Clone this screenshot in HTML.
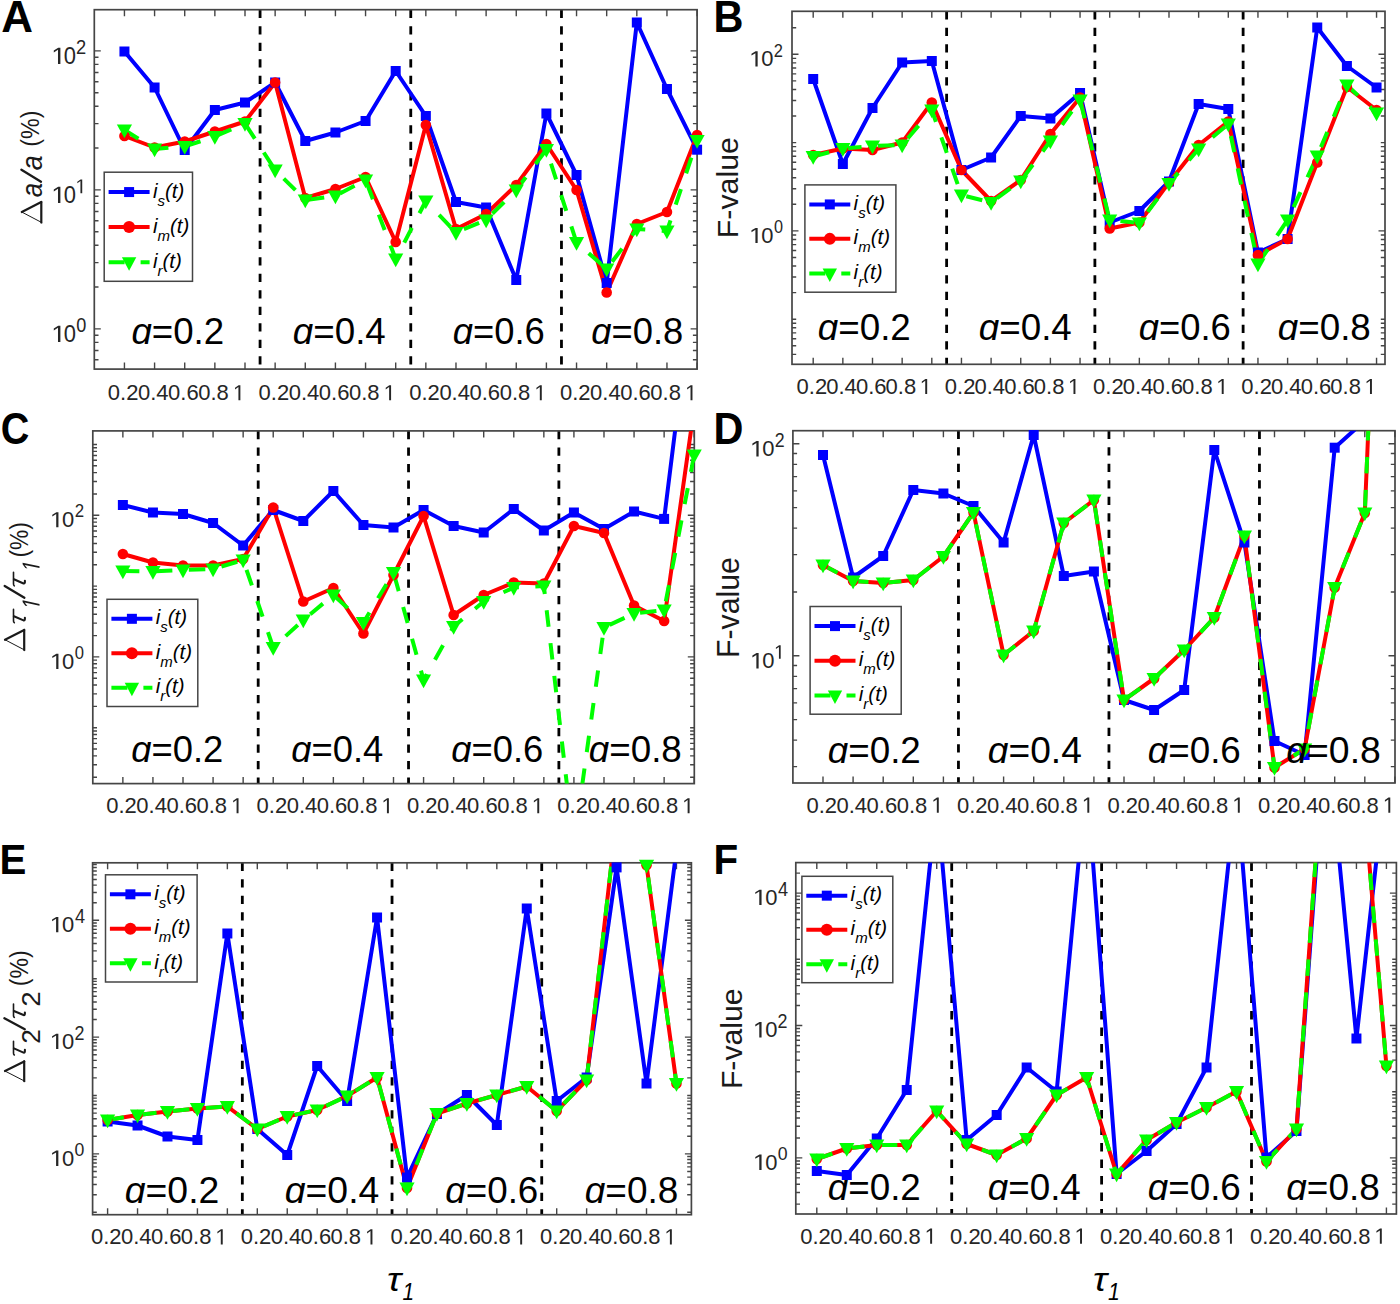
<!DOCTYPE html>
<html><head><meta charset="utf-8"><style>
html,body{margin:0;padding:0;background:#fff;}
svg{display:block;font-family:"Liberation Sans", sans-serif;}
</style></head><body>
<svg width="1400" height="1304" viewBox="0 0 1400 1304">
<rect width="1400" height="1304" fill="#fff"/>
<clipPath id="clipA"><rect x="94.3" y="9.7" width="602.8" height="359.4"/></clipPath>
<line x1="260.07" y1="9.7" x2="260.07" y2="369.1" stroke="#000" stroke-width="2.8" stroke-dasharray="8.3 8.2"/>
<line x1="410.77" y1="9.7" x2="410.77" y2="369.1" stroke="#000" stroke-width="2.8" stroke-dasharray="8.3 8.2"/>
<line x1="561.47" y1="9.7" x2="561.47" y2="369.1" stroke="#000" stroke-width="2.8" stroke-dasharray="8.3 8.2"/>
<path d="M124.44 369.1v-6.5M124.44 9.7v6.5M154.58 369.1v-6.5M154.58 9.7v6.5M184.72 369.1v-6.5M184.72 9.7v6.5M214.86 369.1v-6.5M214.86 9.7v6.5M245 369.1v-6.5M245 9.7v6.5M275.14 369.1v-6.5M275.14 9.7v6.5M305.28 369.1v-6.5M305.28 9.7v6.5M335.42 369.1v-6.5M335.42 9.7v6.5M365.56 369.1v-6.5M365.56 9.7v6.5M395.7 369.1v-6.5M395.7 9.7v6.5M425.84 369.1v-6.5M425.84 9.7v6.5M455.98 369.1v-6.5M455.98 9.7v6.5M486.12 369.1v-6.5M486.12 9.7v6.5M516.26 369.1v-6.5M516.26 9.7v6.5M546.4 369.1v-6.5M546.4 9.7v6.5M576.54 369.1v-6.5M576.54 9.7v6.5M606.68 369.1v-6.5M606.68 9.7v6.5M636.82 369.1v-6.5M636.82 9.7v6.5M666.96 369.1v-6.5M666.96 9.7v6.5M697.1 369.1v-6.5M697.1 9.7v6.5M94.3 359.74h4.2M697.1 359.74h-4.2M94.3 350.43h4.2M697.1 350.43h-4.2M94.3 342.37h4.2M697.1 342.37h-4.2M94.3 335.26h4.2M697.1 335.26h-4.2M94.3 328.9h6.5M697.1 328.9h-6.5M94.3 287.06h4.2M697.1 287.06h-4.2M94.3 262.58h4.2M697.1 262.58h-4.2M94.3 245.21h4.2M697.1 245.21h-4.2M94.3 231.74h4.2M697.1 231.74h-4.2M94.3 220.74h4.2M697.1 220.74h-4.2M94.3 211.43h4.2M697.1 211.43h-4.2M94.3 203.37h4.2M697.1 203.37h-4.2M94.3 196.26h4.2M697.1 196.26h-4.2M94.3 189.9h6.5M697.1 189.9h-6.5M94.3 148.06h4.2M697.1 148.06h-4.2M94.3 123.58h4.2M697.1 123.58h-4.2M94.3 106.21h4.2M697.1 106.21h-4.2M94.3 92.74h4.2M697.1 92.74h-4.2M94.3 81.74h4.2M697.1 81.74h-4.2M94.3 72.43h4.2M697.1 72.43h-4.2M94.3 64.37h4.2M697.1 64.37h-4.2M94.3 57.26h4.2M697.1 57.26h-4.2M94.3 50.9h6.5M697.1 50.9h-6.5" stroke="#454545" stroke-width="1.4" fill="none"/>
<rect x="94.3" y="9.7" width="602.8" height="359.4" fill="none" stroke="#454545" stroke-width="1.7"/>
<g clip-path="url(#clipA)"><polyline points="124.44,51.5 154.58,87.5 184.72,150 214.86,110 245,102.5 275.14,82.5 305.28,141 335.42,132.5 365.56,121 395.7,71 425.84,116 455.98,202 486.12,207.5 516.26,280 546.4,113.5 576.54,175 606.68,283 636.82,22.5 666.96,89 697.1,149.7" fill="none" stroke="#0000ff" stroke-width="4" stroke-linejoin="round"/><polyline points="124.44,136 154.58,147.5 184.72,141.5 214.86,131.5 245,121.5 275.14,82.5 305.28,198 335.42,189 365.56,177 395.7,242 425.84,125 455.98,229 486.12,214 516.26,185 546.4,144 576.54,190 606.68,292.5 636.82,224 666.96,212 697.1,135" fill="none" stroke="#ff0000" stroke-width="4" stroke-linejoin="round"/><polyline points="124.44,130 154.58,149 184.72,146.5 214.86,136.5 245,123.5 275.14,170 305.28,200 335.42,196 365.56,180 395.7,259 425.84,201 455.98,232.5 486.12,220 516.26,190 546.4,149.5 576.54,242.5 606.68,269 636.82,229 666.96,231 697.1,140.5" fill="none" stroke="#00ff00" stroke-width="4" stroke-linejoin="round" stroke-dasharray="16.5 16.5"/></g>
<rect x="119.44" y="46.5" width="10" height="10" fill="#00f"/><rect x="149.58" y="82.5" width="10" height="10" fill="#00f"/><rect x="179.72" y="145" width="10" height="10" fill="#00f"/><rect x="209.86" y="105" width="10" height="10" fill="#00f"/><rect x="240" y="97.5" width="10" height="10" fill="#00f"/><rect x="270.14" y="77.5" width="10" height="10" fill="#00f"/><rect x="300.28" y="136" width="10" height="10" fill="#00f"/><rect x="330.42" y="127.5" width="10" height="10" fill="#00f"/><rect x="360.56" y="116" width="10" height="10" fill="#00f"/><rect x="390.7" y="66" width="10" height="10" fill="#00f"/><rect x="420.84" y="111" width="10" height="10" fill="#00f"/><rect x="450.98" y="197" width="10" height="10" fill="#00f"/><rect x="481.12" y="202.5" width="10" height="10" fill="#00f"/><rect x="511.26" y="275" width="10" height="10" fill="#00f"/><rect x="541.4" y="108.5" width="10" height="10" fill="#00f"/><rect x="571.54" y="170" width="10" height="10" fill="#00f"/><rect x="601.68" y="278" width="10" height="10" fill="#00f"/><rect x="631.82" y="17.5" width="10" height="10" fill="#00f"/><rect x="661.96" y="84" width="10" height="10" fill="#00f"/><rect x="692.1" y="144.7" width="10" height="10" fill="#00f"/><circle cx="124.44" cy="136" r="5.3" fill="#f00"/><circle cx="154.58" cy="147.5" r="5.3" fill="#f00"/><circle cx="184.72" cy="141.5" r="5.3" fill="#f00"/><circle cx="214.86" cy="131.5" r="5.3" fill="#f00"/><circle cx="245" cy="121.5" r="5.3" fill="#f00"/><circle cx="275.14" cy="82.5" r="5.3" fill="#f00"/><circle cx="305.28" cy="198" r="5.3" fill="#f00"/><circle cx="335.42" cy="189" r="5.3" fill="#f00"/><circle cx="365.56" cy="177" r="5.3" fill="#f00"/><circle cx="395.7" cy="242" r="5.3" fill="#f00"/><circle cx="425.84" cy="125" r="5.3" fill="#f00"/><circle cx="455.98" cy="229" r="5.3" fill="#f00"/><circle cx="486.12" cy="214" r="5.3" fill="#f00"/><circle cx="516.26" cy="185" r="5.3" fill="#f00"/><circle cx="546.4" cy="144" r="5.3" fill="#f00"/><circle cx="576.54" cy="190" r="5.3" fill="#f00"/><circle cx="606.68" cy="292.5" r="5.3" fill="#f00"/><circle cx="636.82" cy="224" r="5.3" fill="#f00"/><circle cx="666.96" cy="212" r="5.3" fill="#f00"/><circle cx="697.1" cy="135" r="5.3" fill="#f00"/><path d="M116.84 124.5H132.04L124.44 138.2Z" fill="#0f0"/><path d="M146.98 143.5H162.18L154.58 157.2Z" fill="#0f0"/><path d="M177.12 141H192.32L184.72 154.7Z" fill="#0f0"/><path d="M207.26 131H222.46L214.86 144.7Z" fill="#0f0"/><path d="M237.4 118H252.6L245 131.7Z" fill="#0f0"/><path d="M267.54 164.5H282.74L275.14 178.2Z" fill="#0f0"/><path d="M297.68 194.5H312.88L305.28 208.2Z" fill="#0f0"/><path d="M327.82 190.5H343.02L335.42 204.2Z" fill="#0f0"/><path d="M357.96 174.5H373.16L365.56 188.2Z" fill="#0f0"/><path d="M388.1 253.5H403.3L395.7 267.2Z" fill="#0f0"/><path d="M418.24 195.5H433.44L425.84 209.2Z" fill="#0f0"/><path d="M448.38 227H463.58L455.98 240.7Z" fill="#0f0"/><path d="M478.52 214.5H493.72L486.12 228.2Z" fill="#0f0"/><path d="M508.66 184.5H523.86L516.26 198.2Z" fill="#0f0"/><path d="M538.8 144H554L546.4 157.7Z" fill="#0f0"/><path d="M568.94 237H584.14L576.54 250.7Z" fill="#0f0"/><path d="M599.08 263.5H614.28L606.68 277.2Z" fill="#0f0"/><path d="M629.22 223.5H644.42L636.82 237.2Z" fill="#0f0"/><path d="M659.36 225.5H674.56L666.96 239.2Z" fill="#0f0"/><path d="M689.5 135H704.7L697.1 148.7Z" fill="#0f0"/>
<g fill="#262626">
<text x="63.64" y="63.77" font-size="23.3" textLength="12.22" lengthAdjust="spacingAndGlyphs">0</text>
<path d="M515 0L515 1237L197 1010L197 1180L530 1409L696 1409L696 0Z" transform="translate(51.19,64) scale(0.01321,-0.01148)"/>
<text x="76.08" y="54.3" font-size="19.91" textLength="10.19" lengthAdjust="spacingAndGlyphs">2</text>
<text x="63.64" y="202.77" font-size="23.3" textLength="12.22" lengthAdjust="spacingAndGlyphs">0</text>
<path d="M515 0L515 1237L197 1010L197 1180L530 1409L696 1409L696 0Z" transform="translate(51.19,203) scale(0.01321,-0.01148)"/>
<path d="M515 0L515 1237L197 1010L197 1180L530 1409L696 1409L696 0Z" transform="translate(75.36,193.3) scale(0.00987,-0.00987)"/>
<text x="63.64" y="341.77" font-size="23.3" textLength="12.22" lengthAdjust="spacingAndGlyphs">0</text>
<path d="M515 0L515 1237L197 1010L197 1180L530 1409L696 1409L696 0Z" transform="translate(51.19,342) scale(0.01321,-0.01148)"/>
<text x="76.29" y="332.11" font-size="19.63" textLength="10.05" lengthAdjust="spacingAndGlyphs">0</text>
<text x="123.14" y="400.3" font-size="22" text-anchor="middle">0.2</text>
<text x="153.28" y="400.3" font-size="22" text-anchor="middle">0.4</text>
<text x="183.42" y="400.3" font-size="22" text-anchor="middle">0.6</text>
<text x="213.56" y="400.3" font-size="22" text-anchor="middle">0.8</text>
<path d="M515 0L515 1237L197 1010L197 1180L530 1409L696 1409L696 0Z" transform="translate(232.9,400.3) scale(0.01074,-0.01074)"/>
<text x="273.84" y="400.3" font-size="22" text-anchor="middle">0.2</text>
<text x="303.98" y="400.3" font-size="22" text-anchor="middle">0.4</text>
<text x="334.12" y="400.3" font-size="22" text-anchor="middle">0.6</text>
<text x="364.26" y="400.3" font-size="22" text-anchor="middle">0.8</text>
<path d="M515 0L515 1237L197 1010L197 1180L530 1409L696 1409L696 0Z" transform="translate(383.6,400.3) scale(0.01074,-0.01074)"/>
<text x="424.54" y="400.3" font-size="22" text-anchor="middle">0.2</text>
<text x="454.68" y="400.3" font-size="22" text-anchor="middle">0.4</text>
<text x="484.82" y="400.3" font-size="22" text-anchor="middle">0.6</text>
<text x="514.96" y="400.3" font-size="22" text-anchor="middle">0.8</text>
<path d="M515 0L515 1237L197 1010L197 1180L530 1409L696 1409L696 0Z" transform="translate(534.3,400.3) scale(0.01074,-0.01074)"/>
<text x="575.24" y="400.3" font-size="22" text-anchor="middle">0.2</text>
<text x="605.38" y="400.3" font-size="22" text-anchor="middle">0.4</text>
<text x="635.52" y="400.3" font-size="22" text-anchor="middle">0.6</text>
<text x="665.66" y="400.3" font-size="22" text-anchor="middle">0.8</text>
<path d="M515 0L515 1237L197 1010L197 1180L530 1409L696 1409L696 0Z" transform="translate(685,400.3) scale(0.01074,-0.01074)"/>
</g>
<text x="131.4" y="344" font-size="37.5" textLength="92.8" lengthAdjust="spacingAndGlyphs"><tspan font-style="italic">ɑ</tspan>=0.2</text>
<text x="292.8" y="344" font-size="37.5" textLength="93" lengthAdjust="spacingAndGlyphs"><tspan font-style="italic">ɑ</tspan>=0.4</text>
<text x="452.8" y="344" font-size="37.5" textLength="92" lengthAdjust="spacingAndGlyphs"><tspan font-style="italic">ɑ</tspan>=0.6</text>
<text x="591.3" y="344" font-size="37.5" textLength="92" lengthAdjust="spacingAndGlyphs"><tspan font-style="italic">ɑ</tspan>=0.8</text>
<rect x="104.2" y="172.2" width="88.3" height="109.1" fill="#fff" stroke="#454545" stroke-width="1.5"/>
<line x1="108.6" y1="192.06" x2="149.6" y2="192.06" stroke="#0000ff" stroke-width="4"/>
<rect x="124.1" y="187.06" width="10" height="10" fill="#00f"/>
<text x="152.9" y="197.56" font-size="20.5" font-style="italic">i<tspan font-size="15" dy="8">s</tspan><tspan dy="-8">(t)</tspan></text>
<line x1="108.6" y1="227.08" x2="149.6" y2="227.08" stroke="#ff0000" stroke-width="4"/>
<circle cx="129.1" cy="227.08" r="6" fill="#f00"/>
<text x="152.9" y="232.58" font-size="20.5" font-style="italic">i<tspan font-size="15" dy="8">m</tspan><tspan dy="-8">(t)</tspan></text>
<line x1="108.6" y1="262.32" x2="149.6" y2="262.32" stroke="#00ff00" stroke-width="4" stroke-dasharray="16 16"/>
<path d="M121.9 257.32H136.3L129.1 270.82Z" fill="#0f0"/>
<text x="152.9" y="267.82" font-size="20.5" font-style="italic">i<tspan font-size="15" dy="8">r</tspan><tspan dy="-8">(t)</tspan></text>
<clipPath id="clipB"><rect x="792" y="11.3" width="593" height="353"/></clipPath>
<line x1="946.62" y1="11.3" x2="946.62" y2="364.3" stroke="#000" stroke-width="2.8" stroke-dasharray="8.3 8.2"/>
<line x1="1094.88" y1="11.3" x2="1094.88" y2="364.3" stroke="#000" stroke-width="2.8" stroke-dasharray="8.3 8.2"/>
<line x1="1243.12" y1="11.3" x2="1243.12" y2="364.3" stroke="#000" stroke-width="2.8" stroke-dasharray="8.3 8.2"/>
<path d="M813.2 364.3v-6.5M813.2 11.3v6.5M842.85 364.3v-6.5M842.85 11.3v6.5M872.5 364.3v-6.5M872.5 11.3v6.5M902.15 364.3v-6.5M902.15 11.3v6.5M931.8 364.3v-6.5M931.8 11.3v6.5M961.45 364.3v-6.5M961.45 11.3v6.5M991.1 364.3v-6.5M991.1 11.3v6.5M1020.75 364.3v-6.5M1020.75 11.3v6.5M1050.4 364.3v-6.5M1050.4 11.3v6.5M1080.05 364.3v-6.5M1080.05 11.3v6.5M1109.7 364.3v-6.5M1109.7 11.3v6.5M1139.35 364.3v-6.5M1139.35 11.3v6.5M1169 364.3v-6.5M1169 11.3v6.5M1198.65 364.3v-6.5M1198.65 11.3v6.5M1228.3 364.3v-6.5M1228.3 11.3v6.5M1257.95 364.3v-6.5M1257.95 11.3v6.5M1287.6 364.3v-6.5M1287.6 11.3v6.5M1317.25 364.3v-6.5M1317.25 11.3v6.5M1346.9 364.3v-6.5M1346.9 11.3v6.5M1376.55 364.3v-6.5M1376.55 11.3v6.5M792 354.34h4.2M1385 354.34h-4.2M792 345.78h4.2M1385 345.78h-4.2M792 338.79h4.2M1385 338.79h-4.2M792 332.88h4.2M1385 332.88h-4.2M792 327.76h4.2M1385 327.76h-4.2M792 323.24h4.2M1385 323.24h-4.2M792 319.2h4.2M1385 319.2h-4.2M792 292.62h4.2M1385 292.62h-4.2M792 277.07h4.2M1385 277.07h-4.2M792 266.04h4.2M1385 266.04h-4.2M792 257.48h4.2M1385 257.48h-4.2M792 250.49h4.2M1385 250.49h-4.2M792 244.58h4.2M1385 244.58h-4.2M792 239.46h4.2M1385 239.46h-4.2M792 234.94h4.2M1385 234.94h-4.2M792 230.9h6.5M1385 230.9h-6.5M792 204.32h4.2M1385 204.32h-4.2M792 188.77h4.2M1385 188.77h-4.2M792 177.74h4.2M1385 177.74h-4.2M792 169.18h4.2M1385 169.18h-4.2M792 162.19h4.2M1385 162.19h-4.2M792 156.28h4.2M1385 156.28h-4.2M792 151.16h4.2M1385 151.16h-4.2M792 146.64h4.2M1385 146.64h-4.2M792 142.6h4.2M1385 142.6h-4.2M792 116.02h4.2M1385 116.02h-4.2M792 100.47h4.2M1385 100.47h-4.2M792 89.44h4.2M1385 89.44h-4.2M792 80.88h4.2M1385 80.88h-4.2M792 73.89h4.2M1385 73.89h-4.2M792 67.98h4.2M1385 67.98h-4.2M792 62.86h4.2M1385 62.86h-4.2M792 58.34h4.2M1385 58.34h-4.2M792 54.3h6.5M1385 54.3h-6.5M792 27.72h4.2M1385 27.72h-4.2" stroke="#454545" stroke-width="1.4" fill="none"/>
<rect x="792" y="11.3" width="593" height="353" fill="none" stroke="#454545" stroke-width="1.7"/>
<g clip-path="url(#clipB)"><polyline points="813.2,79 842.85,164 872.5,108 902.15,62.5 931.8,61 961.45,170 991.1,157.5 1020.75,116 1050.4,118.5 1080.05,93 1109.7,222.5 1139.35,211 1169,181.5 1198.65,104 1228.3,109 1257.95,252.5 1287.6,239 1317.25,27.5 1346.9,66 1376.55,87.5" fill="none" stroke="#0000ff" stroke-width="4" stroke-linejoin="round"/><polyline points="813.2,155 842.85,148.5 872.5,150 902.15,142.5 931.8,102.5 961.45,170 991.1,201 1020.75,180 1050.4,134 1080.05,97.5 1109.7,228.5 1139.35,222.5 1169,182.5 1198.65,145 1228.3,121.5 1257.95,255 1287.6,239 1317.25,162.5 1346.9,87 1376.55,110" fill="none" stroke="#ff0000" stroke-width="4" stroke-linejoin="round"/><polyline points="813.2,156.5 842.85,148.5 872.5,146 902.15,145 931.8,110 961.45,195 991.1,202.5 1020.75,181 1050.4,141 1080.05,100 1109.7,220 1139.35,223 1169,183.5 1198.65,149 1228.3,124 1257.95,264 1287.6,220 1317.25,156 1346.9,85 1376.55,113" fill="none" stroke="#00ff00" stroke-width="4" stroke-linejoin="round" stroke-dasharray="16.5 16.5"/></g>
<rect x="808.2" y="74" width="10" height="10" fill="#00f"/><rect x="837.85" y="159" width="10" height="10" fill="#00f"/><rect x="867.5" y="103" width="10" height="10" fill="#00f"/><rect x="897.15" y="57.5" width="10" height="10" fill="#00f"/><rect x="926.8" y="56" width="10" height="10" fill="#00f"/><rect x="956.45" y="165" width="10" height="10" fill="#00f"/><rect x="986.1" y="152.5" width="10" height="10" fill="#00f"/><rect x="1015.75" y="111" width="10" height="10" fill="#00f"/><rect x="1045.4" y="113.5" width="10" height="10" fill="#00f"/><rect x="1075.05" y="88" width="10" height="10" fill="#00f"/><rect x="1104.7" y="217.5" width="10" height="10" fill="#00f"/><rect x="1134.35" y="206" width="10" height="10" fill="#00f"/><rect x="1164" y="176.5" width="10" height="10" fill="#00f"/><rect x="1193.65" y="99" width="10" height="10" fill="#00f"/><rect x="1223.3" y="104" width="10" height="10" fill="#00f"/><rect x="1252.95" y="247.5" width="10" height="10" fill="#00f"/><rect x="1282.6" y="234" width="10" height="10" fill="#00f"/><rect x="1312.25" y="22.5" width="10" height="10" fill="#00f"/><rect x="1341.9" y="61" width="10" height="10" fill="#00f"/><rect x="1371.55" y="82.5" width="10" height="10" fill="#00f"/><circle cx="813.2" cy="155" r="5.3" fill="#f00"/><circle cx="842.85" cy="148.5" r="5.3" fill="#f00"/><circle cx="872.5" cy="150" r="5.3" fill="#f00"/><circle cx="902.15" cy="142.5" r="5.3" fill="#f00"/><circle cx="931.8" cy="102.5" r="5.3" fill="#f00"/><circle cx="961.45" cy="170" r="5.3" fill="#f00"/><circle cx="991.1" cy="201" r="5.3" fill="#f00"/><circle cx="1020.75" cy="180" r="5.3" fill="#f00"/><circle cx="1050.4" cy="134" r="5.3" fill="#f00"/><circle cx="1080.05" cy="97.5" r="5.3" fill="#f00"/><circle cx="1109.7" cy="228.5" r="5.3" fill="#f00"/><circle cx="1139.35" cy="222.5" r="5.3" fill="#f00"/><circle cx="1169" cy="182.5" r="5.3" fill="#f00"/><circle cx="1198.65" cy="145" r="5.3" fill="#f00"/><circle cx="1228.3" cy="121.5" r="5.3" fill="#f00"/><circle cx="1257.95" cy="255" r="5.3" fill="#f00"/><circle cx="1287.6" cy="239" r="5.3" fill="#f00"/><circle cx="1317.25" cy="162.5" r="5.3" fill="#f00"/><circle cx="1346.9" cy="87" r="5.3" fill="#f00"/><circle cx="1376.55" cy="110" r="5.3" fill="#f00"/><path d="M805.6 151H820.8L813.2 164.7Z" fill="#0f0"/><path d="M835.25 143H850.45L842.85 156.7Z" fill="#0f0"/><path d="M864.9 140.5H880.1L872.5 154.2Z" fill="#0f0"/><path d="M894.55 139.5H909.75L902.15 153.2Z" fill="#0f0"/><path d="M924.2 104.5H939.4L931.8 118.2Z" fill="#0f0"/><path d="M953.85 189.5H969.05L961.45 203.2Z" fill="#0f0"/><path d="M983.5 197H998.7L991.1 210.7Z" fill="#0f0"/><path d="M1013.15 175.5H1028.35L1020.75 189.2Z" fill="#0f0"/><path d="M1042.8 135.5H1058L1050.4 149.2Z" fill="#0f0"/><path d="M1072.45 94.5H1087.65L1080.05 108.2Z" fill="#0f0"/><path d="M1102.1 214.5H1117.3L1109.7 228.2Z" fill="#0f0"/><path d="M1131.75 217.5H1146.95L1139.35 231.2Z" fill="#0f0"/><path d="M1161.4 178H1176.6L1169 191.7Z" fill="#0f0"/><path d="M1191.05 143.5H1206.25L1198.65 157.2Z" fill="#0f0"/><path d="M1220.7 118.5H1235.9L1228.3 132.2Z" fill="#0f0"/><path d="M1250.35 258.5H1265.55L1257.95 272.2Z" fill="#0f0"/><path d="M1280 214.5H1295.2L1287.6 228.2Z" fill="#0f0"/><path d="M1309.65 150.5H1324.85L1317.25 164.2Z" fill="#0f0"/><path d="M1339.3 79.5H1354.5L1346.9 93.2Z" fill="#0f0"/><path d="M1368.95 107.5H1384.15L1376.55 121.2Z" fill="#0f0"/>
<g fill="#262626">
<text x="761.34" y="66.19" font-size="21.75" textLength="12.22" lengthAdjust="spacingAndGlyphs">0</text>
<path d="M515 0L515 1237L197 1010L197 1180L530 1409L696 1409L696 0Z" transform="translate(749.06,66.4) scale(0.01233,-0.01072)"/>
<text x="773.87" y="56.5" font-size="17.9" textLength="9.16" lengthAdjust="spacingAndGlyphs">2</text>
<text x="761.34" y="242.79" font-size="21.75" textLength="12.22" lengthAdjust="spacingAndGlyphs">0</text>
<path d="M515 0L515 1237L197 1010L197 1180L530 1409L696 1409L696 0Z" transform="translate(749.06,243) scale(0.01233,-0.01072)"/>
<text x="774.07" y="232.93" font-size="17.66" textLength="9.03" lengthAdjust="spacingAndGlyphs">0</text>
<text x="811.9" y="394.1" font-size="22" text-anchor="middle">0.2</text>
<text x="841.55" y="394.1" font-size="22" text-anchor="middle">0.4</text>
<text x="871.2" y="394.1" font-size="22" text-anchor="middle">0.6</text>
<text x="900.85" y="394.1" font-size="22" text-anchor="middle">0.8</text>
<path d="M515 0L515 1237L197 1010L197 1180L530 1409L696 1409L696 0Z" transform="translate(919.7,394.1) scale(0.01074,-0.01074)"/>
<text x="960.15" y="394.1" font-size="22" text-anchor="middle">0.2</text>
<text x="989.8" y="394.1" font-size="22" text-anchor="middle">0.4</text>
<text x="1019.45" y="394.1" font-size="22" text-anchor="middle">0.6</text>
<text x="1049.1" y="394.1" font-size="22" text-anchor="middle">0.8</text>
<path d="M515 0L515 1237L197 1010L197 1180L530 1409L696 1409L696 0Z" transform="translate(1067.95,394.1) scale(0.01074,-0.01074)"/>
<text x="1108.4" y="394.1" font-size="22" text-anchor="middle">0.2</text>
<text x="1138.05" y="394.1" font-size="22" text-anchor="middle">0.4</text>
<text x="1167.7" y="394.1" font-size="22" text-anchor="middle">0.6</text>
<text x="1197.35" y="394.1" font-size="22" text-anchor="middle">0.8</text>
<path d="M515 0L515 1237L197 1010L197 1180L530 1409L696 1409L696 0Z" transform="translate(1216.2,394.1) scale(0.01074,-0.01074)"/>
<text x="1256.65" y="394.1" font-size="22" text-anchor="middle">0.2</text>
<text x="1286.3" y="394.1" font-size="22" text-anchor="middle">0.4</text>
<text x="1315.95" y="394.1" font-size="22" text-anchor="middle">0.6</text>
<text x="1345.6" y="394.1" font-size="22" text-anchor="middle">0.8</text>
<path d="M515 0L515 1237L197 1010L197 1180L530 1409L696 1409L696 0Z" transform="translate(1364.45,394.1) scale(0.01074,-0.01074)"/>
</g>
<text x="817.8" y="340" font-size="37.5" textLength="93" lengthAdjust="spacingAndGlyphs"><tspan font-style="italic">ɑ</tspan>=0.2</text>
<text x="978.8" y="340" font-size="37.5" textLength="93" lengthAdjust="spacingAndGlyphs"><tspan font-style="italic">ɑ</tspan>=0.4</text>
<text x="1138.8" y="340" font-size="37.5" textLength="92" lengthAdjust="spacingAndGlyphs"><tspan font-style="italic">ɑ</tspan>=0.6</text>
<text x="1277.8" y="340" font-size="37.5" textLength="93" lengthAdjust="spacingAndGlyphs"><tspan font-style="italic">ɑ</tspan>=0.8</text>
<rect x="804.9" y="184.9" width="91" height="107.3" fill="#fff" stroke="#454545" stroke-width="1.5"/>
<line x1="809.3" y1="204.43" x2="850.3" y2="204.43" stroke="#0000ff" stroke-width="4"/>
<rect x="824.8" y="199.43" width="10" height="10" fill="#00f"/>
<text x="853.6" y="209.93" font-size="20.5" font-style="italic">i<tspan font-size="15" dy="8">s</tspan><tspan dy="-8">(t)</tspan></text>
<line x1="809.3" y1="238.87" x2="850.3" y2="238.87" stroke="#ff0000" stroke-width="4"/>
<circle cx="829.8" cy="238.87" r="6" fill="#f00"/>
<text x="853.6" y="244.37" font-size="20.5" font-style="italic">i<tspan font-size="15" dy="8">m</tspan><tspan dy="-8">(t)</tspan></text>
<line x1="809.3" y1="273.53" x2="850.3" y2="273.53" stroke="#00ff00" stroke-width="4" stroke-dasharray="16 16"/>
<path d="M822.6 268.53H837L829.8 282.03Z" fill="#0f0"/>
<text x="853.6" y="279.03" font-size="20.5" font-style="italic">i<tspan font-size="15" dy="8">r</tspan><tspan dy="-8">(t)</tspan></text>
<clipPath id="clipC"><rect x="92.8" y="430.9" width="601.5" height="352.7"/></clipPath>
<line x1="258.19" y1="430.9" x2="258.19" y2="783.6" stroke="#000" stroke-width="2.8" stroke-dasharray="8.3 8.2"/>
<line x1="408.53" y1="430.9" x2="408.53" y2="783.6" stroke="#000" stroke-width="2.8" stroke-dasharray="8.3 8.2"/>
<line x1="558.88" y1="430.9" x2="558.88" y2="783.6" stroke="#000" stroke-width="2.8" stroke-dasharray="8.3 8.2"/>
<path d="M122.87 783.6v-6.5M122.87 430.9v6.5M152.94 783.6v-6.5M152.94 430.9v6.5M183.01 783.6v-6.5M183.01 430.9v6.5M213.08 783.6v-6.5M213.08 430.9v6.5M243.15 783.6v-6.5M243.15 430.9v6.5M273.22 783.6v-6.5M273.22 430.9v6.5M303.29 783.6v-6.5M303.29 430.9v6.5M333.36 783.6v-6.5M333.36 430.9v6.5M363.43 783.6v-6.5M363.43 430.9v6.5M393.5 783.6v-6.5M393.5 430.9v6.5M423.57 783.6v-6.5M423.57 430.9v6.5M453.64 783.6v-6.5M453.64 430.9v6.5M483.71 783.6v-6.5M483.71 430.9v6.5M513.78 783.6v-6.5M513.78 430.9v6.5M543.85 783.6v-6.5M543.85 430.9v6.5M573.92 783.6v-6.5M573.92 430.9v6.5M603.99 783.6v-6.5M603.99 430.9v6.5M634.06 783.6v-6.5M634.06 430.9v6.5M664.13 783.6v-6.5M664.13 430.9v6.5M694.2 783.6v-6.5M694.2 430.9v6.5M92.8 777.19h4.2M694.3 777.19h-4.2M92.8 764.72h4.2M694.3 764.72h-4.2M92.8 755.87h4.2M694.3 755.87h-4.2M92.8 749.01h4.2M694.3 749.01h-4.2M92.8 743.41h4.2M694.3 743.41h-4.2M92.8 738.67h4.2M694.3 738.67h-4.2M92.8 734.56h4.2M694.3 734.56h-4.2M92.8 730.94h4.2M694.3 730.94h-4.2M92.8 727.7h4.2M694.3 727.7h-4.2M92.8 706.39h4.2M694.3 706.39h-4.2M92.8 693.92h4.2M694.3 693.92h-4.2M92.8 685.07h4.2M694.3 685.07h-4.2M92.8 678.21h4.2M694.3 678.21h-4.2M92.8 672.61h4.2M694.3 672.61h-4.2M92.8 667.87h4.2M694.3 667.87h-4.2M92.8 663.76h4.2M694.3 663.76h-4.2M92.8 660.14h4.2M694.3 660.14h-4.2M92.8 656.9h6.5M694.3 656.9h-6.5M92.8 635.59h4.2M694.3 635.59h-4.2M92.8 623.12h4.2M694.3 623.12h-4.2M92.8 614.27h4.2M694.3 614.27h-4.2M92.8 607.41h4.2M694.3 607.41h-4.2M92.8 601.81h4.2M694.3 601.81h-4.2M92.8 597.07h4.2M694.3 597.07h-4.2M92.8 592.96h4.2M694.3 592.96h-4.2M92.8 589.34h4.2M694.3 589.34h-4.2M92.8 586.1h4.2M694.3 586.1h-4.2M92.8 564.79h4.2M694.3 564.79h-4.2M92.8 552.32h4.2M694.3 552.32h-4.2M92.8 543.47h4.2M694.3 543.47h-4.2M92.8 536.61h4.2M694.3 536.61h-4.2M92.8 531.01h4.2M694.3 531.01h-4.2M92.8 526.27h4.2M694.3 526.27h-4.2M92.8 522.16h4.2M694.3 522.16h-4.2M92.8 518.54h4.2M694.3 518.54h-4.2M92.8 515.3h6.5M694.3 515.3h-6.5M92.8 493.99h4.2M694.3 493.99h-4.2M92.8 481.52h4.2M694.3 481.52h-4.2M92.8 472.67h4.2M694.3 472.67h-4.2M92.8 465.81h4.2M694.3 465.81h-4.2M92.8 460.21h4.2M694.3 460.21h-4.2M92.8 455.47h4.2M694.3 455.47h-4.2M92.8 451.36h4.2M694.3 451.36h-4.2M92.8 447.74h4.2M694.3 447.74h-4.2M92.8 444.5h4.2M694.3 444.5h-4.2" stroke="#454545" stroke-width="1.4" fill="none"/>
<rect x="92.8" y="430.9" width="601.5" height="352.7" fill="none" stroke="#454545" stroke-width="1.7"/>
<g clip-path="url(#clipC)"><polyline points="122.87,505 152.94,512.5 183.01,514 213.08,523 243.15,545.5 273.22,510 303.29,521 333.36,491 363.43,525 393.5,527.5 423.57,510 453.64,526 483.71,532.5 513.78,509 543.85,530.5 573.92,512.5 603.99,529 634.06,511.5 664.13,518.9 694.2,277" fill="none" stroke="#0000ff" stroke-width="4" stroke-linejoin="round"/><polyline points="122.87,554 152.94,562.5 183.01,565.5 213.08,565.5 243.15,559 273.22,507.5 303.29,601.5 333.36,588 363.43,633.5 393.5,575 423.57,516 453.64,615 483.71,595 513.78,582.5 543.85,583.5 573.92,526 603.99,533 634.06,605.5 664.13,621 694.2,408" fill="none" stroke="#ff0000" stroke-width="4" stroke-linejoin="round"/><polyline points="122.87,571 152.94,571.5 183.01,570 213.08,569 243.15,560 273.22,647.5 303.29,620 333.36,595 363.43,622.5 393.5,572.5 423.57,680 453.64,626.5 483.71,601.5 513.78,587.5 543.85,586 573.92,845 603.99,627.5 634.06,613.5 664.13,610 694.2,455" fill="none" stroke="#00ff00" stroke-width="4" stroke-linejoin="round" stroke-dasharray="16.5 16.5"/></g>
<rect x="117.87" y="500" width="10" height="10" fill="#00f"/><rect x="147.94" y="507.5" width="10" height="10" fill="#00f"/><rect x="178.01" y="509" width="10" height="10" fill="#00f"/><rect x="208.08" y="518" width="10" height="10" fill="#00f"/><rect x="238.15" y="540.5" width="10" height="10" fill="#00f"/><rect x="268.22" y="505" width="10" height="10" fill="#00f"/><rect x="298.29" y="516" width="10" height="10" fill="#00f"/><rect x="328.36" y="486" width="10" height="10" fill="#00f"/><rect x="358.43" y="520" width="10" height="10" fill="#00f"/><rect x="388.5" y="522.5" width="10" height="10" fill="#00f"/><rect x="418.57" y="505" width="10" height="10" fill="#00f"/><rect x="448.64" y="521" width="10" height="10" fill="#00f"/><rect x="478.71" y="527.5" width="10" height="10" fill="#00f"/><rect x="508.78" y="504" width="10" height="10" fill="#00f"/><rect x="538.85" y="525.5" width="10" height="10" fill="#00f"/><rect x="568.92" y="507.5" width="10" height="10" fill="#00f"/><rect x="598.99" y="524" width="10" height="10" fill="#00f"/><rect x="629.06" y="506.5" width="10" height="10" fill="#00f"/><rect x="659.13" y="513.9" width="10" height="10" fill="#00f"/><circle cx="122.87" cy="554" r="5.3" fill="#f00"/><circle cx="152.94" cy="562.5" r="5.3" fill="#f00"/><circle cx="183.01" cy="565.5" r="5.3" fill="#f00"/><circle cx="213.08" cy="565.5" r="5.3" fill="#f00"/><circle cx="243.15" cy="559" r="5.3" fill="#f00"/><circle cx="273.22" cy="507.5" r="5.3" fill="#f00"/><circle cx="303.29" cy="601.5" r="5.3" fill="#f00"/><circle cx="333.36" cy="588" r="5.3" fill="#f00"/><circle cx="363.43" cy="633.5" r="5.3" fill="#f00"/><circle cx="393.5" cy="575" r="5.3" fill="#f00"/><circle cx="423.57" cy="516" r="5.3" fill="#f00"/><circle cx="453.64" cy="615" r="5.3" fill="#f00"/><circle cx="483.71" cy="595" r="5.3" fill="#f00"/><circle cx="513.78" cy="582.5" r="5.3" fill="#f00"/><circle cx="543.85" cy="583.5" r="5.3" fill="#f00"/><circle cx="573.92" cy="526" r="5.3" fill="#f00"/><circle cx="603.99" cy="533" r="5.3" fill="#f00"/><circle cx="634.06" cy="605.5" r="5.3" fill="#f00"/><circle cx="664.13" cy="621" r="5.3" fill="#f00"/><path d="M115.27 565.5H130.47L122.87 579.2Z" fill="#0f0"/><path d="M145.34 566H160.54L152.94 579.7Z" fill="#0f0"/><path d="M175.41 564.5H190.61L183.01 578.2Z" fill="#0f0"/><path d="M205.48 563.5H220.68L213.08 577.2Z" fill="#0f0"/><path d="M235.55 554.5H250.75L243.15 568.2Z" fill="#0f0"/><path d="M265.62 642H280.82L273.22 655.7Z" fill="#0f0"/><path d="M295.69 614.5H310.89L303.29 628.2Z" fill="#0f0"/><path d="M325.76 589.5H340.96L333.36 603.2Z" fill="#0f0"/><path d="M355.83 617H371.03L363.43 630.7Z" fill="#0f0"/><path d="M385.9 567H401.1L393.5 580.7Z" fill="#0f0"/><path d="M415.97 674.5H431.17L423.57 688.2Z" fill="#0f0"/><path d="M446.04 621H461.24L453.64 634.7Z" fill="#0f0"/><path d="M476.11 596H491.31L483.71 609.7Z" fill="#0f0"/><path d="M506.18 582H521.38L513.78 595.7Z" fill="#0f0"/><path d="M536.25 580.5H551.45L543.85 594.2Z" fill="#0f0"/><path d="M596.39 622H611.59L603.99 635.7Z" fill="#0f0"/><path d="M626.46 608H641.66L634.06 621.7Z" fill="#0f0"/><path d="M656.53 604.5H671.73L664.13 618.2Z" fill="#0f0"/><path d="M686.6 449.5H701.8L694.2 463.2Z" fill="#0f0"/>
<g fill="#262626">
<text x="62.14" y="527.09" font-size="21.75" textLength="12.22" lengthAdjust="spacingAndGlyphs">0</text>
<path d="M515 0L515 1237L197 1010L197 1180L530 1409L696 1409L696 0Z" transform="translate(49.86,527.3) scale(0.01233,-0.01072)"/>
<text x="74.65" y="517.2" font-size="18.33" textLength="9.38" lengthAdjust="spacingAndGlyphs">2</text>
<text x="62.14" y="668.69" font-size="21.75" textLength="12.22" lengthAdjust="spacingAndGlyphs">0</text>
<path d="M515 0L515 1237L197 1010L197 1180L530 1409L696 1409L696 0Z" transform="translate(49.86,668.9) scale(0.01233,-0.01072)"/>
<text x="74.85" y="658.62" font-size="18.08" textLength="9.25" lengthAdjust="spacingAndGlyphs">0</text>
<text x="121.57" y="813.3" font-size="22" text-anchor="middle">0.2</text>
<text x="151.64" y="813.3" font-size="22" text-anchor="middle">0.4</text>
<text x="181.71" y="813.3" font-size="22" text-anchor="middle">0.6</text>
<text x="211.78" y="813.3" font-size="22" text-anchor="middle">0.8</text>
<path d="M515 0L515 1237L197 1010L197 1180L530 1409L696 1409L696 0Z" transform="translate(231.05,813.3) scale(0.01074,-0.01074)"/>
<text x="271.92" y="813.3" font-size="22" text-anchor="middle">0.2</text>
<text x="301.99" y="813.3" font-size="22" text-anchor="middle">0.4</text>
<text x="332.06" y="813.3" font-size="22" text-anchor="middle">0.6</text>
<text x="362.13" y="813.3" font-size="22" text-anchor="middle">0.8</text>
<path d="M515 0L515 1237L197 1010L197 1180L530 1409L696 1409L696 0Z" transform="translate(381.4,813.3) scale(0.01074,-0.01074)"/>
<text x="422.27" y="813.3" font-size="22" text-anchor="middle">0.2</text>
<text x="452.34" y="813.3" font-size="22" text-anchor="middle">0.4</text>
<text x="482.41" y="813.3" font-size="22" text-anchor="middle">0.6</text>
<text x="512.48" y="813.3" font-size="22" text-anchor="middle">0.8</text>
<path d="M515 0L515 1237L197 1010L197 1180L530 1409L696 1409L696 0Z" transform="translate(531.75,813.3) scale(0.01074,-0.01074)"/>
<text x="572.62" y="813.3" font-size="22" text-anchor="middle">0.2</text>
<text x="602.69" y="813.3" font-size="22" text-anchor="middle">0.4</text>
<text x="632.76" y="813.3" font-size="22" text-anchor="middle">0.6</text>
<text x="662.83" y="813.3" font-size="22" text-anchor="middle">0.8</text>
<path d="M515 0L515 1237L197 1010L197 1180L530 1409L696 1409L696 0Z" transform="translate(682.1,813.3) scale(0.01074,-0.01074)"/>
</g>
<text x="131.3" y="762" font-size="37.5" textLength="92" lengthAdjust="spacingAndGlyphs"><tspan font-style="italic">ɑ</tspan>=0.2</text>
<text x="291.3" y="762" font-size="37.5" textLength="92" lengthAdjust="spacingAndGlyphs"><tspan font-style="italic">ɑ</tspan>=0.4</text>
<text x="451.3" y="762" font-size="37.5" textLength="92" lengthAdjust="spacingAndGlyphs"><tspan font-style="italic">ɑ</tspan>=0.6</text>
<text x="588.8" y="762" font-size="37.5" textLength="93" lengthAdjust="spacingAndGlyphs"><tspan font-style="italic">ɑ</tspan>=0.8</text>
<rect x="107" y="599.3" width="90.8" height="107.2" fill="#fff" stroke="#454545" stroke-width="1.5"/>
<line x1="111.4" y1="618.81" x2="152.4" y2="618.81" stroke="#0000ff" stroke-width="4"/>
<rect x="126.9" y="613.81" width="10" height="10" fill="#00f"/>
<text x="155.7" y="624.31" font-size="20.5" font-style="italic">i<tspan font-size="15" dy="8">s</tspan><tspan dy="-8">(t)</tspan></text>
<line x1="111.4" y1="653.22" x2="152.4" y2="653.22" stroke="#ff0000" stroke-width="4"/>
<circle cx="131.9" cy="653.22" r="6" fill="#f00"/>
<text x="155.7" y="658.72" font-size="20.5" font-style="italic">i<tspan font-size="15" dy="8">m</tspan><tspan dy="-8">(t)</tspan></text>
<line x1="111.4" y1="687.85" x2="152.4" y2="687.85" stroke="#00ff00" stroke-width="4" stroke-dasharray="16 16"/>
<path d="M124.7 682.85H139.1L131.9 696.35Z" fill="#0f0"/>
<text x="155.7" y="693.35" font-size="20.5" font-style="italic">i<tspan font-size="15" dy="8">r</tspan><tspan dy="-8">(t)</tspan></text>
<clipPath id="clipD"><rect x="792.9" y="430.7" width="602.1" height="352.3"/></clipPath>
<line x1="958.45" y1="430.7" x2="958.45" y2="783" stroke="#000" stroke-width="2.8" stroke-dasharray="8.3 8.2"/>
<line x1="1108.95" y1="430.7" x2="1108.95" y2="783" stroke="#000" stroke-width="2.8" stroke-dasharray="8.3 8.2"/>
<line x1="1259.45" y1="430.7" x2="1259.45" y2="783" stroke="#000" stroke-width="2.8" stroke-dasharray="8.3 8.2"/>
<path d="M823 783v-6.5M823 430.7v6.5M853.1 783v-6.5M853.1 430.7v6.5M883.2 783v-6.5M883.2 430.7v6.5M913.3 783v-6.5M913.3 430.7v6.5M943.4 783v-6.5M943.4 430.7v6.5M973.5 783v-6.5M973.5 430.7v6.5M1003.6 783v-6.5M1003.6 430.7v6.5M1033.7 783v-6.5M1033.7 430.7v6.5M1063.8 783v-6.5M1063.8 430.7v6.5M1093.9 783v-6.5M1093.9 430.7v6.5M1124 783v-6.5M1124 430.7v6.5M1154.1 783v-6.5M1154.1 430.7v6.5M1184.2 783v-6.5M1184.2 430.7v6.5M1214.3 783v-6.5M1214.3 430.7v6.5M1244.4 783v-6.5M1244.4 430.7v6.5M1274.5 783v-6.5M1274.5 430.7v6.5M1304.6 783v-6.5M1304.6 430.7v6.5M1334.7 783v-6.5M1334.7 430.7v6.5M1364.8 783v-6.5M1364.8 430.7v6.5M1394.9 783v-6.5M1394.9 430.7v6.5M792.9 766.65h4.2M1395 766.65h-4.2M792.9 740.16h4.2M1395 740.16h-4.2M792.9 719.62h4.2M1395 719.62h-4.2M792.9 702.83h4.2M1395 702.83h-4.2M792.9 688.64h4.2M1395 688.64h-4.2M792.9 676.34h4.2M1395 676.34h-4.2M792.9 665.5h4.2M1395 665.5h-4.2M792.9 655.8h6.5M1395 655.8h-6.5M792.9 591.98h4.2M1395 591.98h-4.2M792.9 554.65h4.2M1395 554.65h-4.2M792.9 528.16h4.2M1395 528.16h-4.2M792.9 507.62h4.2M1395 507.62h-4.2M792.9 490.83h4.2M1395 490.83h-4.2M792.9 476.64h4.2M1395 476.64h-4.2M792.9 464.34h4.2M1395 464.34h-4.2M792.9 453.5h4.2M1395 453.5h-4.2M792.9 443.8h6.5M1395 443.8h-6.5" stroke="#454545" stroke-width="1.4" fill="none"/>
<rect x="792.9" y="430.7" width="602.1" height="352.3" fill="none" stroke="#454545" stroke-width="1.7"/>
<g clip-path="url(#clipD)"><polyline points="823,455 853.1,577.5 883.2,556 913.3,490 943.4,493.5 973.5,506 1003.6,542.5 1033.7,435 1063.8,576 1093.9,571.5 1124,700 1154.1,710 1184.2,690 1214.3,450 1244.4,542.5 1274.5,741 1304.6,755 1334.7,447.7 1364.8,420.6 1394.9,380" fill="none" stroke="#0000ff" stroke-width="4" stroke-linejoin="round"/><polyline points="823,565 853.1,581 883.2,583 913.3,580 943.4,556.5 973.5,512.5 1003.6,655 1033.7,631 1063.8,523 1093.9,500 1124,700 1154.1,678.5 1184.2,650 1214.3,617.5 1244.4,536 1274.5,767.5 1304.6,749 1334.7,587.5 1364.8,513 1394.9,-200" fill="none" stroke="#ff0000" stroke-width="4" stroke-linejoin="round"/><polyline points="823,565 853.1,581 883.2,583 913.3,580 943.4,556.5 973.5,512.5 1003.6,655 1033.7,631 1063.8,523 1093.9,500 1124,700 1154.1,678.5 1184.2,650 1214.3,617.5 1244.4,536 1274.5,767.5 1304.6,749 1334.7,587.5 1364.8,513 1394.9,-200" fill="none" stroke="#00ff00" stroke-width="4" stroke-linejoin="round" stroke-dasharray="16.5 16.5"/></g>
<rect x="818" y="450" width="10" height="10" fill="#00f"/><rect x="848.1" y="572.5" width="10" height="10" fill="#00f"/><rect x="878.2" y="551" width="10" height="10" fill="#00f"/><rect x="908.3" y="485" width="10" height="10" fill="#00f"/><rect x="938.4" y="488.5" width="10" height="10" fill="#00f"/><rect x="968.5" y="501" width="10" height="10" fill="#00f"/><rect x="998.6" y="537.5" width="10" height="10" fill="#00f"/><rect x="1028.7" y="430" width="10" height="10" fill="#00f"/><rect x="1058.8" y="571" width="10" height="10" fill="#00f"/><rect x="1088.9" y="566.5" width="10" height="10" fill="#00f"/><rect x="1119" y="695" width="10" height="10" fill="#00f"/><rect x="1149.1" y="705" width="10" height="10" fill="#00f"/><rect x="1179.2" y="685" width="10" height="10" fill="#00f"/><rect x="1209.3" y="445" width="10" height="10" fill="#00f"/><rect x="1239.4" y="537.5" width="10" height="10" fill="#00f"/><rect x="1269.5" y="736" width="10" height="10" fill="#00f"/><rect x="1299.6" y="750" width="10" height="10" fill="#00f"/><rect x="1329.7" y="442.7" width="10" height="10" fill="#00f"/><circle cx="823" cy="565" r="5.3" fill="#f00"/><circle cx="853.1" cy="581" r="5.3" fill="#f00"/><circle cx="883.2" cy="583" r="5.3" fill="#f00"/><circle cx="913.3" cy="580" r="5.3" fill="#f00"/><circle cx="943.4" cy="556.5" r="5.3" fill="#f00"/><circle cx="973.5" cy="512.5" r="5.3" fill="#f00"/><circle cx="1003.6" cy="655" r="5.3" fill="#f00"/><circle cx="1033.7" cy="631" r="5.3" fill="#f00"/><circle cx="1063.8" cy="523" r="5.3" fill="#f00"/><circle cx="1093.9" cy="500" r="5.3" fill="#f00"/><circle cx="1124" cy="700" r="5.3" fill="#f00"/><circle cx="1154.1" cy="678.5" r="5.3" fill="#f00"/><circle cx="1184.2" cy="650" r="5.3" fill="#f00"/><circle cx="1214.3" cy="617.5" r="5.3" fill="#f00"/><circle cx="1244.4" cy="536" r="5.3" fill="#f00"/><circle cx="1274.5" cy="767.5" r="5.3" fill="#f00"/><circle cx="1304.6" cy="749" r="5.3" fill="#f00"/><circle cx="1334.7" cy="587.5" r="5.3" fill="#f00"/><circle cx="1364.8" cy="513" r="5.3" fill="#f00"/><path d="M815.4 559.5H830.6L823 573.2Z" fill="#0f0"/><path d="M845.5 575.5H860.7L853.1 589.2Z" fill="#0f0"/><path d="M875.6 577.5H890.8L883.2 591.2Z" fill="#0f0"/><path d="M905.7 574.5H920.9L913.3 588.2Z" fill="#0f0"/><path d="M935.8 551H951L943.4 564.7Z" fill="#0f0"/><path d="M965.9 507H981.1L973.5 520.7Z" fill="#0f0"/><path d="M996 649.5H1011.2L1003.6 663.2Z" fill="#0f0"/><path d="M1026.1 625.5H1041.3L1033.7 639.2Z" fill="#0f0"/><path d="M1056.2 517.5H1071.4L1063.8 531.2Z" fill="#0f0"/><path d="M1086.3 494.5H1101.5L1093.9 508.2Z" fill="#0f0"/><path d="M1116.4 694.5H1131.6L1124 708.2Z" fill="#0f0"/><path d="M1146.5 673H1161.7L1154.1 686.7Z" fill="#0f0"/><path d="M1176.6 644.5H1191.8L1184.2 658.2Z" fill="#0f0"/><path d="M1206.7 612H1221.9L1214.3 625.7Z" fill="#0f0"/><path d="M1236.8 530.5H1252L1244.4 544.2Z" fill="#0f0"/><path d="M1266.9 762H1282.1L1274.5 775.7Z" fill="#0f0"/><path d="M1297 743.5H1312.2L1304.6 757.2Z" fill="#0f0"/><path d="M1327.1 582H1342.3L1334.7 595.7Z" fill="#0f0"/><path d="M1357.2 507.5H1372.4L1364.8 521.2Z" fill="#0f0"/>
<g fill="#262626">
<text x="762.24" y="456.18" font-size="22.03" textLength="12.22" lengthAdjust="spacingAndGlyphs">0</text>
<path d="M515 0L515 1237L197 1010L197 1180L530 1409L696 1409L696 0Z" transform="translate(749.93,456.4) scale(0.01249,-0.01086)"/>
<text x="774.71" y="446.8" font-size="19.33" textLength="9.89" lengthAdjust="spacingAndGlyphs">2</text>
<text x="762.24" y="668.18" font-size="22.03" textLength="12.22" lengthAdjust="spacingAndGlyphs">0</text>
<path d="M515 0L515 1237L197 1010L197 1180L530 1409L696 1409L696 0Z" transform="translate(749.93,668.4) scale(0.01249,-0.01086)"/>
<path d="M515 0L515 1237L197 1010L197 1180L530 1409L696 1409L696 0Z" transform="translate(774.01,658.8) scale(0.00958,-0.00958)"/>
<text x="821.7" y="812.7" font-size="22" text-anchor="middle">0.2</text>
<text x="851.8" y="812.7" font-size="22" text-anchor="middle">0.4</text>
<text x="881.9" y="812.7" font-size="22" text-anchor="middle">0.6</text>
<text x="912" y="812.7" font-size="22" text-anchor="middle">0.8</text>
<path d="M515 0L515 1237L197 1010L197 1180L530 1409L696 1409L696 0Z" transform="translate(931.3,812.7) scale(0.01074,-0.01074)"/>
<text x="972.2" y="812.7" font-size="22" text-anchor="middle">0.2</text>
<text x="1002.3" y="812.7" font-size="22" text-anchor="middle">0.4</text>
<text x="1032.4" y="812.7" font-size="22" text-anchor="middle">0.6</text>
<text x="1062.5" y="812.7" font-size="22" text-anchor="middle">0.8</text>
<path d="M515 0L515 1237L197 1010L197 1180L530 1409L696 1409L696 0Z" transform="translate(1081.8,812.7) scale(0.01074,-0.01074)"/>
<text x="1122.7" y="812.7" font-size="22" text-anchor="middle">0.2</text>
<text x="1152.8" y="812.7" font-size="22" text-anchor="middle">0.4</text>
<text x="1182.9" y="812.7" font-size="22" text-anchor="middle">0.6</text>
<text x="1213" y="812.7" font-size="22" text-anchor="middle">0.8</text>
<path d="M515 0L515 1237L197 1010L197 1180L530 1409L696 1409L696 0Z" transform="translate(1232.3,812.7) scale(0.01074,-0.01074)"/>
<text x="1273.2" y="812.7" font-size="22" text-anchor="middle">0.2</text>
<text x="1303.3" y="812.7" font-size="22" text-anchor="middle">0.4</text>
<text x="1333.4" y="812.7" font-size="22" text-anchor="middle">0.6</text>
<text x="1363.5" y="812.7" font-size="22" text-anchor="middle">0.8</text>
<path d="M515 0L515 1237L197 1010L197 1180L530 1409L696 1409L696 0Z" transform="translate(1382.8,812.7) scale(0.01074,-0.01074)"/>
</g>
<text x="827.8" y="762.5" font-size="37.5" textLength="93" lengthAdjust="spacingAndGlyphs"><tspan font-style="italic">ɑ</tspan>=0.2</text>
<text x="987.8" y="762.5" font-size="37.5" textLength="94" lengthAdjust="spacingAndGlyphs"><tspan font-style="italic">ɑ</tspan>=0.4</text>
<text x="1147.8" y="762.5" font-size="37.5" textLength="93" lengthAdjust="spacingAndGlyphs"><tspan font-style="italic">ɑ</tspan>=0.6</text>
<text x="1286.3" y="762.5" font-size="37.5" textLength="94.5" lengthAdjust="spacingAndGlyphs"><tspan font-style="italic">ɑ</tspan>=0.8</text>
<rect x="810.1" y="606.5" width="91.1" height="107.7" fill="#fff" stroke="#454545" stroke-width="1.5"/>
<line x1="814.5" y1="626.1" x2="855.5" y2="626.1" stroke="#0000ff" stroke-width="4"/>
<rect x="830" y="621.1" width="10" height="10" fill="#00f"/>
<text x="858.8" y="631.6" font-size="20.5" font-style="italic">i<tspan font-size="15" dy="8">s</tspan><tspan dy="-8">(t)</tspan></text>
<line x1="814.5" y1="660.67" x2="855.5" y2="660.67" stroke="#ff0000" stroke-width="4"/>
<circle cx="835" cy="660.67" r="6" fill="#f00"/>
<text x="858.8" y="666.17" font-size="20.5" font-style="italic">i<tspan font-size="15" dy="8">m</tspan><tspan dy="-8">(t)</tspan></text>
<line x1="814.5" y1="695.46" x2="855.5" y2="695.46" stroke="#00ff00" stroke-width="4" stroke-dasharray="16 16"/>
<path d="M827.8 690.46H842.2L835 703.96Z" fill="#0f0"/>
<text x="858.8" y="700.96" font-size="20.5" font-style="italic">i<tspan font-size="15" dy="8">r</tspan><tspan dy="-8">(t)</tspan></text>
<clipPath id="clipE"><rect x="92.6" y="862.8" width="598.8" height="351.9"/></clipPath>
<line x1="242.33" y1="862.8" x2="242.33" y2="1214.7" stroke="#000" stroke-width="2.8" stroke-dasharray="8.3 8.2"/>
<line x1="392.03" y1="862.8" x2="392.03" y2="1214.7" stroke="#000" stroke-width="2.8" stroke-dasharray="8.3 8.2"/>
<line x1="541.73" y1="862.8" x2="541.73" y2="1214.7" stroke="#000" stroke-width="2.8" stroke-dasharray="8.3 8.2"/>
<path d="M107.6 1214.7v-6.5M107.6 862.8v6.5M137.54 1214.7v-6.5M137.54 862.8v6.5M167.48 1214.7v-6.5M167.48 862.8v6.5M197.42 1214.7v-6.5M197.42 862.8v6.5M227.36 1214.7v-6.5M227.36 862.8v6.5M257.3 1214.7v-6.5M257.3 862.8v6.5M287.24 1214.7v-6.5M287.24 862.8v6.5M317.18 1214.7v-6.5M317.18 862.8v6.5M347.12 1214.7v-6.5M347.12 862.8v6.5M377.06 1214.7v-6.5M377.06 862.8v6.5M407 1214.7v-6.5M407 862.8v6.5M436.94 1214.7v-6.5M436.94 862.8v6.5M466.88 1214.7v-6.5M466.88 862.8v6.5M496.82 1214.7v-6.5M496.82 862.8v6.5M526.76 1214.7v-6.5M526.76 862.8v6.5M556.7 1214.7v-6.5M556.7 862.8v6.5M586.64 1214.7v-6.5M586.64 862.8v6.5M616.58 1214.7v-6.5M616.58 862.8v6.5M646.52 1214.7v-6.5M646.52 862.8v6.5M676.46 1214.7v-6.5M676.46 862.8v6.5M92.6 1212.3h4.2M691.4 1212.3h-4.2M92.6 1194.72h4.2M691.4 1194.72h-4.2M92.6 1184.44h4.2M691.4 1184.44h-4.2M92.6 1177.14h4.2M691.4 1177.14h-4.2M92.6 1171.48h4.2M691.4 1171.48h-4.2M92.6 1166.86h4.2M691.4 1166.86h-4.2M92.6 1162.95h4.2M691.4 1162.95h-4.2M92.6 1159.56h4.2M691.4 1159.56h-4.2M92.6 1156.57h4.2M691.4 1156.57h-4.2M92.6 1153.9h6.5M691.4 1153.9h-6.5M92.6 1136.32h4.2M691.4 1136.32h-4.2M92.6 1126.04h4.2M691.4 1126.04h-4.2M92.6 1118.74h4.2M691.4 1118.74h-4.2M92.6 1113.08h4.2M691.4 1113.08h-4.2M92.6 1108.46h4.2M691.4 1108.46h-4.2M92.6 1104.55h4.2M691.4 1104.55h-4.2M92.6 1101.16h4.2M691.4 1101.16h-4.2M92.6 1098.17h4.2M691.4 1098.17h-4.2M92.6 1095.5h4.2M691.4 1095.5h-4.2M92.6 1077.92h4.2M691.4 1077.92h-4.2M92.6 1067.64h4.2M691.4 1067.64h-4.2M92.6 1060.34h4.2M691.4 1060.34h-4.2M92.6 1054.68h4.2M691.4 1054.68h-4.2M92.6 1050.06h4.2M691.4 1050.06h-4.2M92.6 1046.15h4.2M691.4 1046.15h-4.2M92.6 1042.76h4.2M691.4 1042.76h-4.2M92.6 1039.77h4.2M691.4 1039.77h-4.2M92.6 1037.1h6.5M691.4 1037.1h-6.5M92.6 1019.52h4.2M691.4 1019.52h-4.2M92.6 1009.24h4.2M691.4 1009.24h-4.2M92.6 1001.94h4.2M691.4 1001.94h-4.2M92.6 996.28h4.2M691.4 996.28h-4.2M92.6 991.66h4.2M691.4 991.66h-4.2M92.6 987.75h4.2M691.4 987.75h-4.2M92.6 984.36h4.2M691.4 984.36h-4.2M92.6 981.37h4.2M691.4 981.37h-4.2M92.6 978.7h4.2M691.4 978.7h-4.2M92.6 961.12h4.2M691.4 961.12h-4.2M92.6 950.84h4.2M691.4 950.84h-4.2M92.6 943.54h4.2M691.4 943.54h-4.2M92.6 937.88h4.2M691.4 937.88h-4.2M92.6 933.26h4.2M691.4 933.26h-4.2M92.6 929.35h4.2M691.4 929.35h-4.2M92.6 925.96h4.2M691.4 925.96h-4.2M92.6 922.97h4.2M691.4 922.97h-4.2M92.6 920.3h6.5M691.4 920.3h-6.5M92.6 902.72h4.2M691.4 902.72h-4.2M92.6 892.44h4.2M691.4 892.44h-4.2M92.6 885.14h4.2M691.4 885.14h-4.2M92.6 879.48h4.2M691.4 879.48h-4.2M92.6 874.86h4.2M691.4 874.86h-4.2M92.6 870.95h4.2M691.4 870.95h-4.2M92.6 867.56h4.2M691.4 867.56h-4.2M92.6 864.57h4.2M691.4 864.57h-4.2" stroke="#454545" stroke-width="1.4" fill="none"/>
<rect x="92.6" y="862.8" width="598.8" height="351.9" fill="none" stroke="#454545" stroke-width="1.7"/>
<g clip-path="url(#clipE)"><polyline points="107.6,1121.5 137.54,1125.5 167.48,1136.5 197.42,1140 227.36,933.5 257.3,1129 287.24,1155 317.18,1066 347.12,1101 377.06,917.5 407,1177.5 436.94,1114 466.88,1095 496.82,1125 526.76,908.5 556.7,1101 586.64,1077.5 616.58,867.4 646.52,1083.5 676.46,850" fill="none" stroke="#0000ff" stroke-width="4" stroke-linejoin="round"/><polyline points="107.6,1120 137.54,1115 167.48,1111.5 197.42,1108.5 227.36,1106.5 257.3,1129 287.24,1116.5 317.18,1110 347.12,1096 377.06,1077.5 407,1188 436.94,1113.5 466.88,1103.5 496.82,1095 526.76,1086.5 556.7,1111 586.64,1080 616.58,819 646.52,865.2 676.46,1083.5" fill="none" stroke="#ff0000" stroke-width="4" stroke-linejoin="round"/><polyline points="107.6,1120 137.54,1115 167.48,1111.5 197.42,1108.5 227.36,1106.5 257.3,1129 287.24,1116.5 317.18,1110 347.12,1096 377.06,1077.5 407,1188 436.94,1113.5 466.88,1103.5 496.82,1095 526.76,1086.5 556.7,1111 586.64,1080 616.58,819 646.52,865.2 676.46,1083.5" fill="none" stroke="#00ff00" stroke-width="4" stroke-linejoin="round" stroke-dasharray="16.5 16.5"/></g>
<rect x="102.6" y="1116.5" width="10" height="10" fill="#00f"/><rect x="132.54" y="1120.5" width="10" height="10" fill="#00f"/><rect x="162.48" y="1131.5" width="10" height="10" fill="#00f"/><rect x="192.42" y="1135" width="10" height="10" fill="#00f"/><rect x="222.36" y="928.5" width="10" height="10" fill="#00f"/><rect x="252.3" y="1124" width="10" height="10" fill="#00f"/><rect x="282.24" y="1150" width="10" height="10" fill="#00f"/><rect x="312.18" y="1061" width="10" height="10" fill="#00f"/><rect x="342.12" y="1096" width="10" height="10" fill="#00f"/><rect x="372.06" y="912.5" width="10" height="10" fill="#00f"/><rect x="402" y="1172.5" width="10" height="10" fill="#00f"/><rect x="431.94" y="1109" width="10" height="10" fill="#00f"/><rect x="461.88" y="1090" width="10" height="10" fill="#00f"/><rect x="491.82" y="1120" width="10" height="10" fill="#00f"/><rect x="521.76" y="903.5" width="10" height="10" fill="#00f"/><rect x="551.7" y="1096" width="10" height="10" fill="#00f"/><rect x="581.64" y="1072.5" width="10" height="10" fill="#00f"/><rect x="611.58" y="862.4" width="10" height="10" fill="#00f"/><rect x="641.52" y="1078.5" width="10" height="10" fill="#00f"/><circle cx="107.6" cy="1120" r="5.3" fill="#f00"/><circle cx="137.54" cy="1115" r="5.3" fill="#f00"/><circle cx="167.48" cy="1111.5" r="5.3" fill="#f00"/><circle cx="197.42" cy="1108.5" r="5.3" fill="#f00"/><circle cx="227.36" cy="1106.5" r="5.3" fill="#f00"/><circle cx="257.3" cy="1129" r="5.3" fill="#f00"/><circle cx="287.24" cy="1116.5" r="5.3" fill="#f00"/><circle cx="317.18" cy="1110" r="5.3" fill="#f00"/><circle cx="347.12" cy="1096" r="5.3" fill="#f00"/><circle cx="377.06" cy="1077.5" r="5.3" fill="#f00"/><circle cx="407" cy="1188" r="5.3" fill="#f00"/><circle cx="436.94" cy="1113.5" r="5.3" fill="#f00"/><circle cx="466.88" cy="1103.5" r="5.3" fill="#f00"/><circle cx="496.82" cy="1095" r="5.3" fill="#f00"/><circle cx="526.76" cy="1086.5" r="5.3" fill="#f00"/><circle cx="556.7" cy="1111" r="5.3" fill="#f00"/><circle cx="586.64" cy="1080" r="5.3" fill="#f00"/><circle cx="646.52" cy="865.2" r="5.3" fill="#f00"/><circle cx="676.46" cy="1083.5" r="5.3" fill="#f00"/><path d="M100 1114.5H115.2L107.6 1128.2Z" fill="#0f0"/><path d="M129.94 1109.5H145.14L137.54 1123.2Z" fill="#0f0"/><path d="M159.88 1106H175.08L167.48 1119.7Z" fill="#0f0"/><path d="M189.82 1103H205.02L197.42 1116.7Z" fill="#0f0"/><path d="M219.76 1101H234.96L227.36 1114.7Z" fill="#0f0"/><path d="M249.7 1123.5H264.9L257.3 1137.2Z" fill="#0f0"/><path d="M279.64 1111H294.84L287.24 1124.7Z" fill="#0f0"/><path d="M309.58 1104.5H324.78L317.18 1118.2Z" fill="#0f0"/><path d="M339.52 1090.5H354.72L347.12 1104.2Z" fill="#0f0"/><path d="M369.46 1072H384.66L377.06 1085.7Z" fill="#0f0"/><path d="M399.4 1182.5H414.6L407 1196.2Z" fill="#0f0"/><path d="M429.34 1108H444.54L436.94 1121.7Z" fill="#0f0"/><path d="M459.28 1098H474.48L466.88 1111.7Z" fill="#0f0"/><path d="M489.22 1089.5H504.42L496.82 1103.2Z" fill="#0f0"/><path d="M519.16 1081H534.36L526.76 1094.7Z" fill="#0f0"/><path d="M549.1 1105.5H564.3L556.7 1119.2Z" fill="#0f0"/><path d="M579.04 1074.5H594.24L586.64 1088.2Z" fill="#0f0"/><path d="M638.92 859.7H654.12L646.52 873.4Z" fill="#0f0"/><path d="M668.86 1078H684.06L676.46 1091.7Z" fill="#0f0"/>
<g fill="#262626">
<text x="61.94" y="932.08" font-size="22.17" textLength="12.22" lengthAdjust="spacingAndGlyphs">0</text>
<path d="M515 0L515 1237L197 1010L197 1180L530 1409L696 1409L696 0Z" transform="translate(49.61,932.3) scale(0.01257,-0.01093)"/>
<text x="74.88" y="922.9" font-size="19.77" textLength="10.11" lengthAdjust="spacingAndGlyphs">4</text>
<text x="61.94" y="1048.88" font-size="22.17" textLength="12.22" lengthAdjust="spacingAndGlyphs">0</text>
<path d="M515 0L515 1237L197 1010L197 1180L530 1409L696 1409L696 0Z" transform="translate(49.61,1049.1) scale(0.01257,-0.01093)"/>
<text x="74.4" y="1039.7" font-size="19.48" textLength="9.97" lengthAdjust="spacingAndGlyphs">2</text>
<text x="61.94" y="1165.68" font-size="22.17" textLength="12.22" lengthAdjust="spacingAndGlyphs">0</text>
<path d="M515 0L515 1237L197 1010L197 1180L530 1409L696 1409L696 0Z" transform="translate(49.61,1165.9) scale(0.01257,-0.01093)"/>
<text x="74.61" y="1156.31" font-size="19.21" textLength="9.83" lengthAdjust="spacingAndGlyphs">0</text>
<text x="106.3" y="1244.4" font-size="22" text-anchor="middle">0.2</text>
<text x="136.24" y="1244.4" font-size="22" text-anchor="middle">0.4</text>
<text x="166.18" y="1244.4" font-size="22" text-anchor="middle">0.6</text>
<text x="196.12" y="1244.4" font-size="22" text-anchor="middle">0.8</text>
<path d="M515 0L515 1237L197 1010L197 1180L530 1409L696 1409L696 0Z" transform="translate(215.26,1244.4) scale(0.01074,-0.01074)"/>
<text x="256" y="1244.4" font-size="22" text-anchor="middle">0.2</text>
<text x="285.94" y="1244.4" font-size="22" text-anchor="middle">0.4</text>
<text x="315.88" y="1244.4" font-size="22" text-anchor="middle">0.6</text>
<text x="345.82" y="1244.4" font-size="22" text-anchor="middle">0.8</text>
<path d="M515 0L515 1237L197 1010L197 1180L530 1409L696 1409L696 0Z" transform="translate(364.96,1244.4) scale(0.01074,-0.01074)"/>
<text x="405.7" y="1244.4" font-size="22" text-anchor="middle">0.2</text>
<text x="435.64" y="1244.4" font-size="22" text-anchor="middle">0.4</text>
<text x="465.58" y="1244.4" font-size="22" text-anchor="middle">0.6</text>
<text x="495.52" y="1244.4" font-size="22" text-anchor="middle">0.8</text>
<path d="M515 0L515 1237L197 1010L197 1180L530 1409L696 1409L696 0Z" transform="translate(514.66,1244.4) scale(0.01074,-0.01074)"/>
<text x="555.4" y="1244.4" font-size="22" text-anchor="middle">0.2</text>
<text x="585.34" y="1244.4" font-size="22" text-anchor="middle">0.4</text>
<text x="615.28" y="1244.4" font-size="22" text-anchor="middle">0.6</text>
<text x="645.22" y="1244.4" font-size="22" text-anchor="middle">0.8</text>
<path d="M515 0L515 1237L197 1010L197 1180L530 1409L696 1409L696 0Z" transform="translate(664.36,1244.4) scale(0.01074,-0.01074)"/>
</g>
<text x="124.8" y="1202.5" font-size="37.5" textLength="94.5" lengthAdjust="spacingAndGlyphs"><tspan font-style="italic">ɑ</tspan>=0.2</text>
<text x="284.8" y="1202.5" font-size="37.5" textLength="94.5" lengthAdjust="spacingAndGlyphs"><tspan font-style="italic">ɑ</tspan>=0.4</text>
<text x="445.3" y="1202.5" font-size="37.5" textLength="93" lengthAdjust="spacingAndGlyphs"><tspan font-style="italic">ɑ</tspan>=0.6</text>
<text x="584.8" y="1202.5" font-size="37.5" textLength="93.5" lengthAdjust="spacingAndGlyphs"><tspan font-style="italic">ɑ</tspan>=0.8</text>
<rect x="105.5" y="874.8" width="91.6" height="107.2" fill="#fff" stroke="#454545" stroke-width="1.5"/>
<line x1="109.9" y1="894.31" x2="150.9" y2="894.31" stroke="#0000ff" stroke-width="4"/>
<rect x="125.4" y="889.31" width="10" height="10" fill="#00f"/>
<text x="154.2" y="899.81" font-size="20.5" font-style="italic">i<tspan font-size="15" dy="8">s</tspan><tspan dy="-8">(t)</tspan></text>
<line x1="109.9" y1="928.72" x2="150.9" y2="928.72" stroke="#ff0000" stroke-width="4"/>
<circle cx="130.4" cy="928.72" r="6" fill="#f00"/>
<text x="154.2" y="934.22" font-size="20.5" font-style="italic">i<tspan font-size="15" dy="8">m</tspan><tspan dy="-8">(t)</tspan></text>
<line x1="109.9" y1="963.35" x2="150.9" y2="963.35" stroke="#00ff00" stroke-width="4" stroke-dasharray="16 16"/>
<path d="M123.2 958.35H137.6L130.4 971.85Z" fill="#0f0"/>
<text x="154.2" y="968.85" font-size="20.5" font-style="italic">i<tspan font-size="15" dy="8">r</tspan><tspan dy="-8">(t)</tspan></text>
<clipPath id="clipF"><rect x="795.8" y="862.6" width="600.6" height="351.4"/></clipPath>
<line x1="951.71" y1="862.6" x2="951.71" y2="1214" stroke="#000" stroke-width="2.8" stroke-dasharray="8.3 8.2"/>
<line x1="1101.61" y1="862.6" x2="1101.61" y2="1214" stroke="#000" stroke-width="2.8" stroke-dasharray="8.3 8.2"/>
<line x1="1251.51" y1="862.6" x2="1251.51" y2="1214" stroke="#000" stroke-width="2.8" stroke-dasharray="8.3 8.2"/>
<path d="M816.8 1214v-6.5M816.8 862.6v6.5M846.78 1214v-6.5M846.78 862.6v6.5M876.76 1214v-6.5M876.76 862.6v6.5M906.74 1214v-6.5M906.74 862.6v6.5M936.72 1214v-6.5M936.72 862.6v6.5M966.7 1214v-6.5M966.7 862.6v6.5M996.68 1214v-6.5M996.68 862.6v6.5M1026.66 1214v-6.5M1026.66 862.6v6.5M1056.64 1214v-6.5M1056.64 862.6v6.5M1086.62 1214v-6.5M1086.62 862.6v6.5M1116.6 1214v-6.5M1116.6 862.6v6.5M1146.58 1214v-6.5M1146.58 862.6v6.5M1176.56 1214v-6.5M1176.56 862.6v6.5M1206.54 1214v-6.5M1206.54 862.6v6.5M1236.52 1214v-6.5M1236.52 862.6v6.5M1266.5 1214v-6.5M1266.5 862.6v6.5M1296.48 1214v-6.5M1296.48 862.6v6.5M1326.46 1214v-6.5M1326.46 862.6v6.5M1356.44 1214v-6.5M1356.44 862.6v6.5M1386.42 1214v-6.5M1386.42 862.6v6.5M795.8 1204.17h4.2M1396.4 1204.17h-4.2M795.8 1192.51h4.2M1396.4 1192.51h-4.2M795.8 1184.24h4.2M1396.4 1184.24h-4.2M795.8 1177.83h4.2M1396.4 1177.83h-4.2M795.8 1172.59h4.2M1396.4 1172.59h-4.2M795.8 1168.15h4.2M1396.4 1168.15h-4.2M795.8 1164.32h4.2M1396.4 1164.32h-4.2M795.8 1160.93h4.2M1396.4 1160.93h-4.2M795.8 1157.9h6.5M1396.4 1157.9h-6.5M795.8 1137.97h4.2M1396.4 1137.97h-4.2M795.8 1126.31h4.2M1396.4 1126.31h-4.2M795.8 1118.04h4.2M1396.4 1118.04h-4.2M795.8 1111.63h4.2M1396.4 1111.63h-4.2M795.8 1106.39h4.2M1396.4 1106.39h-4.2M795.8 1101.95h4.2M1396.4 1101.95h-4.2M795.8 1098.12h4.2M1396.4 1098.12h-4.2M795.8 1094.73h4.2M1396.4 1094.73h-4.2M795.8 1091.7h4.2M1396.4 1091.7h-4.2M795.8 1071.77h4.2M1396.4 1071.77h-4.2M795.8 1060.11h4.2M1396.4 1060.11h-4.2M795.8 1051.84h4.2M1396.4 1051.84h-4.2M795.8 1045.43h4.2M1396.4 1045.43h-4.2M795.8 1040.19h4.2M1396.4 1040.19h-4.2M795.8 1035.75h4.2M1396.4 1035.75h-4.2M795.8 1031.92h4.2M1396.4 1031.92h-4.2M795.8 1028.53h4.2M1396.4 1028.53h-4.2M795.8 1025.5h6.5M1396.4 1025.5h-6.5M795.8 1005.57h4.2M1396.4 1005.57h-4.2M795.8 993.91h4.2M1396.4 993.91h-4.2M795.8 985.64h4.2M1396.4 985.64h-4.2M795.8 979.23h4.2M1396.4 979.23h-4.2M795.8 973.99h4.2M1396.4 973.99h-4.2M795.8 969.55h4.2M1396.4 969.55h-4.2M795.8 965.72h4.2M1396.4 965.72h-4.2M795.8 962.33h4.2M1396.4 962.33h-4.2M795.8 959.3h4.2M1396.4 959.3h-4.2M795.8 939.37h4.2M1396.4 939.37h-4.2M795.8 927.71h4.2M1396.4 927.71h-4.2M795.8 919.44h4.2M1396.4 919.44h-4.2M795.8 913.03h4.2M1396.4 913.03h-4.2M795.8 907.79h4.2M1396.4 907.79h-4.2M795.8 903.35h4.2M1396.4 903.35h-4.2M795.8 899.52h4.2M1396.4 899.52h-4.2M795.8 896.13h4.2M1396.4 896.13h-4.2M795.8 893.1h6.5M1396.4 893.1h-6.5M795.8 873.17h4.2M1396.4 873.17h-4.2" stroke="#454545" stroke-width="1.4" fill="none"/>
<rect x="795.8" y="862.6" width="600.6" height="351.4" fill="none" stroke="#454545" stroke-width="1.7"/>
<g clip-path="url(#clipF)"><polyline points="816.8,1171 846.78,1175 876.76,1138.5 906.74,1090 936.72,799 966.7,1140 996.68,1115 1026.66,1067.5 1056.64,1091.5 1086.62,778 1116.6,1174 1146.58,1151 1176.56,1124 1206.54,1067.5 1236.52,788.5 1266.5,1157.5 1296.48,1131 1326.46,727 1356.44,1038.5 1386.42,771" fill="none" stroke="#0000ff" stroke-width="4" stroke-linejoin="round"/><polyline points="816.8,1159 846.78,1148.5 876.76,1145 906.74,1145 936.72,1111 966.7,1144 996.68,1155 1026.66,1138.5 1056.64,1095 1086.62,1077.5 1116.6,1174 1146.58,1140 1176.56,1122.5 1206.54,1107.5 1236.52,1091.5 1266.5,1161.5 1296.48,1129 1326.46,708 1356.44,710.8 1386.42,1066" fill="none" stroke="#ff0000" stroke-width="4" stroke-linejoin="round"/><polyline points="816.8,1159 846.78,1148.5 876.76,1145 906.74,1145 936.72,1111 966.7,1144 996.68,1155 1026.66,1138.5 1056.64,1095 1086.62,1077.5 1116.6,1174 1146.58,1140 1176.56,1122.5 1206.54,1107.5 1236.52,1091.5 1266.5,1161.5 1296.48,1129 1326.46,708 1356.44,710.8 1386.42,1066" fill="none" stroke="#00ff00" stroke-width="4" stroke-linejoin="round" stroke-dasharray="16.5 16.5"/></g>
<rect x="811.8" y="1166" width="10" height="10" fill="#00f"/><rect x="841.78" y="1170" width="10" height="10" fill="#00f"/><rect x="871.76" y="1133.5" width="10" height="10" fill="#00f"/><rect x="901.74" y="1085" width="10" height="10" fill="#00f"/><rect x="961.7" y="1135" width="10" height="10" fill="#00f"/><rect x="991.68" y="1110" width="10" height="10" fill="#00f"/><rect x="1021.66" y="1062.5" width="10" height="10" fill="#00f"/><rect x="1051.64" y="1086.5" width="10" height="10" fill="#00f"/><rect x="1111.6" y="1169" width="10" height="10" fill="#00f"/><rect x="1141.58" y="1146" width="10" height="10" fill="#00f"/><rect x="1171.56" y="1119" width="10" height="10" fill="#00f"/><rect x="1201.54" y="1062.5" width="10" height="10" fill="#00f"/><rect x="1261.5" y="1152.5" width="10" height="10" fill="#00f"/><rect x="1291.48" y="1126" width="10" height="10" fill="#00f"/><rect x="1351.44" y="1033.5" width="10" height="10" fill="#00f"/><circle cx="816.8" cy="1159" r="5.3" fill="#f00"/><circle cx="846.78" cy="1148.5" r="5.3" fill="#f00"/><circle cx="876.76" cy="1145" r="5.3" fill="#f00"/><circle cx="906.74" cy="1145" r="5.3" fill="#f00"/><circle cx="936.72" cy="1111" r="5.3" fill="#f00"/><circle cx="966.7" cy="1144" r="5.3" fill="#f00"/><circle cx="996.68" cy="1155" r="5.3" fill="#f00"/><circle cx="1026.66" cy="1138.5" r="5.3" fill="#f00"/><circle cx="1056.64" cy="1095" r="5.3" fill="#f00"/><circle cx="1086.62" cy="1077.5" r="5.3" fill="#f00"/><circle cx="1116.6" cy="1174" r="5.3" fill="#f00"/><circle cx="1146.58" cy="1140" r="5.3" fill="#f00"/><circle cx="1176.56" cy="1122.5" r="5.3" fill="#f00"/><circle cx="1206.54" cy="1107.5" r="5.3" fill="#f00"/><circle cx="1236.52" cy="1091.5" r="5.3" fill="#f00"/><circle cx="1266.5" cy="1161.5" r="5.3" fill="#f00"/><circle cx="1296.48" cy="1129" r="5.3" fill="#f00"/><circle cx="1386.42" cy="1066" r="5.3" fill="#f00"/><path d="M809.2 1153.5H824.4L816.8 1167.2Z" fill="#0f0"/><path d="M839.18 1143H854.38L846.78 1156.7Z" fill="#0f0"/><path d="M869.16 1139.5H884.36L876.76 1153.2Z" fill="#0f0"/><path d="M899.14 1139.5H914.34L906.74 1153.2Z" fill="#0f0"/><path d="M929.12 1105.5H944.32L936.72 1119.2Z" fill="#0f0"/><path d="M959.1 1138.5H974.3L966.7 1152.2Z" fill="#0f0"/><path d="M989.08 1149.5H1004.28L996.68 1163.2Z" fill="#0f0"/><path d="M1019.06 1133H1034.26L1026.66 1146.7Z" fill="#0f0"/><path d="M1049.04 1089.5H1064.24L1056.64 1103.2Z" fill="#0f0"/><path d="M1079.02 1072H1094.22L1086.62 1085.7Z" fill="#0f0"/><path d="M1109 1168.5H1124.2L1116.6 1182.2Z" fill="#0f0"/><path d="M1138.98 1134.5H1154.18L1146.58 1148.2Z" fill="#0f0"/><path d="M1168.96 1117H1184.16L1176.56 1130.7Z" fill="#0f0"/><path d="M1198.94 1102H1214.14L1206.54 1115.7Z" fill="#0f0"/><path d="M1228.92 1086H1244.12L1236.52 1099.7Z" fill="#0f0"/><path d="M1258.9 1156H1274.1L1266.5 1169.7Z" fill="#0f0"/><path d="M1288.88 1123.5H1304.08L1296.48 1137.2Z" fill="#0f0"/><path d="M1378.82 1060.5H1394.02L1386.42 1074.2Z" fill="#0f0"/>
<g fill="#262626">
<text x="765.14" y="904.88" font-size="22.17" textLength="12.22" lengthAdjust="spacingAndGlyphs">0</text>
<path d="M515 0L515 1237L197 1010L197 1180L530 1409L696 1409L696 0Z" transform="translate(752.81,905.1) scale(0.01257,-0.01093)"/>
<text x="778.08" y="895.7" font-size="19.77" textLength="10.11" lengthAdjust="spacingAndGlyphs">4</text>
<text x="765.14" y="1037.28" font-size="22.17" textLength="12.22" lengthAdjust="spacingAndGlyphs">0</text>
<path d="M515 0L515 1237L197 1010L197 1180L530 1409L696 1409L696 0Z" transform="translate(752.81,1037.5) scale(0.01257,-0.01093)"/>
<text x="777.6" y="1028.1" font-size="19.48" textLength="9.97" lengthAdjust="spacingAndGlyphs">2</text>
<text x="765.14" y="1169.68" font-size="22.17" textLength="12.22" lengthAdjust="spacingAndGlyphs">0</text>
<path d="M515 0L515 1237L197 1010L197 1180L530 1409L696 1409L696 0Z" transform="translate(752.81,1169.9) scale(0.01257,-0.01093)"/>
<text x="777.81" y="1160.31" font-size="19.21" textLength="9.83" lengthAdjust="spacingAndGlyphs">0</text>
<text x="815.5" y="1243.7" font-size="22" text-anchor="middle">0.2</text>
<text x="845.48" y="1243.7" font-size="22" text-anchor="middle">0.4</text>
<text x="875.46" y="1243.7" font-size="22" text-anchor="middle">0.6</text>
<text x="905.44" y="1243.7" font-size="22" text-anchor="middle">0.8</text>
<path d="M515 0L515 1237L197 1010L197 1180L530 1409L696 1409L696 0Z" transform="translate(924.62,1243.7) scale(0.01074,-0.01074)"/>
<text x="965.4" y="1243.7" font-size="22" text-anchor="middle">0.2</text>
<text x="995.38" y="1243.7" font-size="22" text-anchor="middle">0.4</text>
<text x="1025.36" y="1243.7" font-size="22" text-anchor="middle">0.6</text>
<text x="1055.34" y="1243.7" font-size="22" text-anchor="middle">0.8</text>
<path d="M515 0L515 1237L197 1010L197 1180L530 1409L696 1409L696 0Z" transform="translate(1074.52,1243.7) scale(0.01074,-0.01074)"/>
<text x="1115.3" y="1243.7" font-size="22" text-anchor="middle">0.2</text>
<text x="1145.28" y="1243.7" font-size="22" text-anchor="middle">0.4</text>
<text x="1175.26" y="1243.7" font-size="22" text-anchor="middle">0.6</text>
<text x="1205.24" y="1243.7" font-size="22" text-anchor="middle">0.8</text>
<path d="M515 0L515 1237L197 1010L197 1180L530 1409L696 1409L696 0Z" transform="translate(1224.42,1243.7) scale(0.01074,-0.01074)"/>
<text x="1265.2" y="1243.7" font-size="22" text-anchor="middle">0.2</text>
<text x="1295.18" y="1243.7" font-size="22" text-anchor="middle">0.4</text>
<text x="1325.16" y="1243.7" font-size="22" text-anchor="middle">0.6</text>
<text x="1355.14" y="1243.7" font-size="22" text-anchor="middle">0.8</text>
<path d="M515 0L515 1237L197 1010L197 1180L530 1409L696 1409L696 0Z" transform="translate(1374.32,1243.7) scale(0.01074,-0.01074)"/>
</g>
<text x="827.8" y="1200" font-size="37.5" textLength="93" lengthAdjust="spacingAndGlyphs"><tspan font-style="italic">ɑ</tspan>=0.2</text>
<text x="987.8" y="1200" font-size="37.5" textLength="93" lengthAdjust="spacingAndGlyphs"><tspan font-style="italic">ɑ</tspan>=0.4</text>
<text x="1147.8" y="1200" font-size="37.5" textLength="93" lengthAdjust="spacingAndGlyphs"><tspan font-style="italic">ɑ</tspan>=0.6</text>
<text x="1286.3" y="1200" font-size="37.5" textLength="93.5" lengthAdjust="spacingAndGlyphs"><tspan font-style="italic">ɑ</tspan>=0.8</text>
<rect x="801.9" y="876.3" width="90.9" height="106.4" fill="#fff" stroke="#454545" stroke-width="1.5"/>
<line x1="806.3" y1="895.66" x2="847.3" y2="895.66" stroke="#0000ff" stroke-width="4"/>
<rect x="821.8" y="890.66" width="10" height="10" fill="#00f"/>
<text x="850.6" y="901.16" font-size="20.5" font-style="italic">i<tspan font-size="15" dy="8">s</tspan><tspan dy="-8">(t)</tspan></text>
<line x1="806.3" y1="929.82" x2="847.3" y2="929.82" stroke="#ff0000" stroke-width="4"/>
<circle cx="826.8" cy="929.82" r="6" fill="#f00"/>
<text x="850.6" y="935.32" font-size="20.5" font-style="italic">i<tspan font-size="15" dy="8">m</tspan><tspan dy="-8">(t)</tspan></text>
<line x1="806.3" y1="964.19" x2="847.3" y2="964.19" stroke="#00ff00" stroke-width="4" stroke-dasharray="16 16"/>
<path d="M819.6 959.19H834L826.8 972.69Z" fill="#0f0"/>
<text x="850.6" y="969.69" font-size="20.5" font-style="italic">i<tspan font-size="15" dy="8">r</tspan><tspan dy="-8">(t)</tspan></text>
<text x="1.31" y="32.1" font-size="43.61" font-weight="bold" textLength="31.75" lengthAdjust="spacingAndGlyphs">A</text>
<text x="713.52" y="32.2" font-size="43.46" font-weight="bold" textLength="29.96" lengthAdjust="spacingAndGlyphs">B</text>
<text x="0.68" y="444.18" font-size="43.5" font-weight="bold" textLength="28.61" lengthAdjust="spacingAndGlyphs">C</text>
<text x="713.43" y="443.7" font-size="43.46" font-weight="bold" textLength="29.91" lengthAdjust="spacingAndGlyphs">D</text>
<text x="-0.39" y="873.7" font-size="43.17" font-weight="bold" textLength="26.87" lengthAdjust="spacingAndGlyphs">E</text>
<text x="713.6" y="873.7" font-size="43.17" font-weight="bold" textLength="24.68" lengthAdjust="spacingAndGlyphs">F</text>
<g fill="#1a1a1a">
<g transform="translate(0,223) rotate(-90)"><g stroke="#1a1a1a" fill="none" stroke-linecap="round"><line x1="0.4" y1="41.9" x2="10.95" y2="21.8" stroke-width="1.0"/><line x1="10.95" y1="21.8" x2="21" y2="41.3" stroke-width="2.2"/><line x1="0.4" y1="41.3" x2="21" y2="41.3" stroke-width="2.2"/></g><text x="25.82" y="41.61" font-size="29.2" font-style="italic" textLength="14.36" lengthAdjust="spacingAndGlyphs">a</text><line x1="41.3" y1="41" x2="53.3" y2="21.4" stroke="#1a1a1a" stroke-width="2.3" stroke-linecap="round"/><text x="52.7" y="41.61" font-size="29.2" font-style="italic" textLength="14.92" lengthAdjust="spacingAndGlyphs">a</text><text x="76.26" y="39.09" font-size="25.65" textLength="36.19" lengthAdjust="spacingAndGlyphs">(%)</text></g>
<g transform="translate(0,650.5) rotate(-90)"><g stroke="#1a1a1a" fill="none" stroke-linecap="round"><line x1="0.4" y1="24.8" x2="10.75" y2="5" stroke-width="1.0"/><line x1="10.75" y1="5" x2="20.6" y2="24.2" stroke-width="2.2"/><line x1="0.4" y1="24.2" x2="20.6" y2="24.2" stroke-width="2.2"/></g><g stroke="#1a1a1a" fill="none" stroke-linecap="round"><path d="M27.8 14.3Q28.4 13.4 29.7 13.5L41.1 13.5" stroke-width="1.6"/><path d="M34.21 13.9L30.12 23.5Q29.68 25.1 32.75 24.9" stroke-width="2.1"/></g><path d="M515 0L515 1237L197 1010L197 1180L530 1409L696 1409L696 0Z" fill="#1a1a1a" transform="translate(39.91,39.5) skewX(-12) scale(0.00960,-0.01199)"/><line x1="52.8" y1="24.4" x2="64.6" y2="4.7" stroke="#1a1a1a" stroke-width="2.3" stroke-linecap="round"/><g stroke="#1a1a1a" fill="none" stroke-linecap="round"><path d="M64.7 14.3Q65.3 13.4 66.6 13.5L78.3 13.5" stroke-width="1.6"/><path d="M71.25 13.9L67.08 23.5Q66.63 25.1 69.76 24.9" stroke-width="2.1"/></g><path d="M515 0L515 1237L197 1010L197 1180L530 1409L696 1409L696 0Z" fill="#1a1a1a" transform="translate(77.51,39.5) skewX(-12) scale(0.00960,-0.01199)"/><text x="92.99" y="28" font-size="25.12" textLength="35.43" lengthAdjust="spacingAndGlyphs">(%)</text></g>
<g transform="translate(0,1081.6) rotate(-90)"><g stroke="#1a1a1a" fill="none" stroke-linecap="round"><line x1="0.4" y1="24.8" x2="10.55" y2="5" stroke-width="1.0"/><line x1="10.55" y1="5" x2="20.2" y2="24.2" stroke-width="2.2"/><line x1="0.4" y1="24.2" x2="20.2" y2="24.2" stroke-width="2.2"/></g><g stroke="#1a1a1a" fill="none" stroke-linecap="round"><path d="M26.6 14.3Q27.2 13.4 28.5 13.5L40.3 13.5" stroke-width="1.6"/><path d="M33.2 13.9L29 23.5Q28.55 25.1 31.7 24.9" stroke-width="2.1"/></g><text x="37.79" y="39.9" font-size="25.35" textLength="14.53" lengthAdjust="spacingAndGlyphs">2</text><line x1="52.4" y1="24.8" x2="63.4" y2="4.4" stroke="#1a1a1a" stroke-width="2.3" stroke-linecap="round"/><g stroke="#1a1a1a" fill="none" stroke-linecap="round"><path d="M64.2 14.3Q64.8 13.4 66.1 13.5L77.5 13.5" stroke-width="1.6"/><path d="M70.61 13.9L66.52 23.5Q66.08 25.1 69.15 24.9" stroke-width="2.1"/></g><text x="74.91" y="39.9" font-size="25.35" textLength="15.38" lengthAdjust="spacingAndGlyphs">2</text><text x="95.37" y="27.92" font-size="25.01" textLength="35.97" lengthAdjust="spacingAndGlyphs">(%)</text></g>
<g transform="translate(0,235.7) rotate(-90)"><text x="-2.49" y="738.11" font-size="29.82" textLength="101.14" lengthAdjust="spacingAndGlyphs">F-value</text></g>
<g transform="translate(0,655.6) rotate(-90)"><text x="-2.49" y="739.19" font-size="31.32" textLength="101.03" lengthAdjust="spacingAndGlyphs">F-value</text></g>
<g transform="translate(0,1086.6) rotate(-90)"><text x="-2.48" y="741.62" font-size="28.73" textLength="100.62" lengthAdjust="spacingAndGlyphs">F-value</text></g>
</g>
<text x="387.11" y="1291.17" font-size="33.82" font-style="italic" textLength="14.24" lengthAdjust="spacingAndGlyphs">τ</text>
<text x="402.46" y="1300" font-size="23.98" font-style="italic" textLength="11.6" lengthAdjust="spacingAndGlyphs">1</text>
<text x="1092.91" y="1291.17" font-size="33.82" font-style="italic" textLength="14.15" lengthAdjust="spacingAndGlyphs">τ</text>
<text x="1107.95" y="1300" font-size="23.98" font-style="italic" textLength="11.85" lengthAdjust="spacingAndGlyphs">1</text>
</svg></body></html>
